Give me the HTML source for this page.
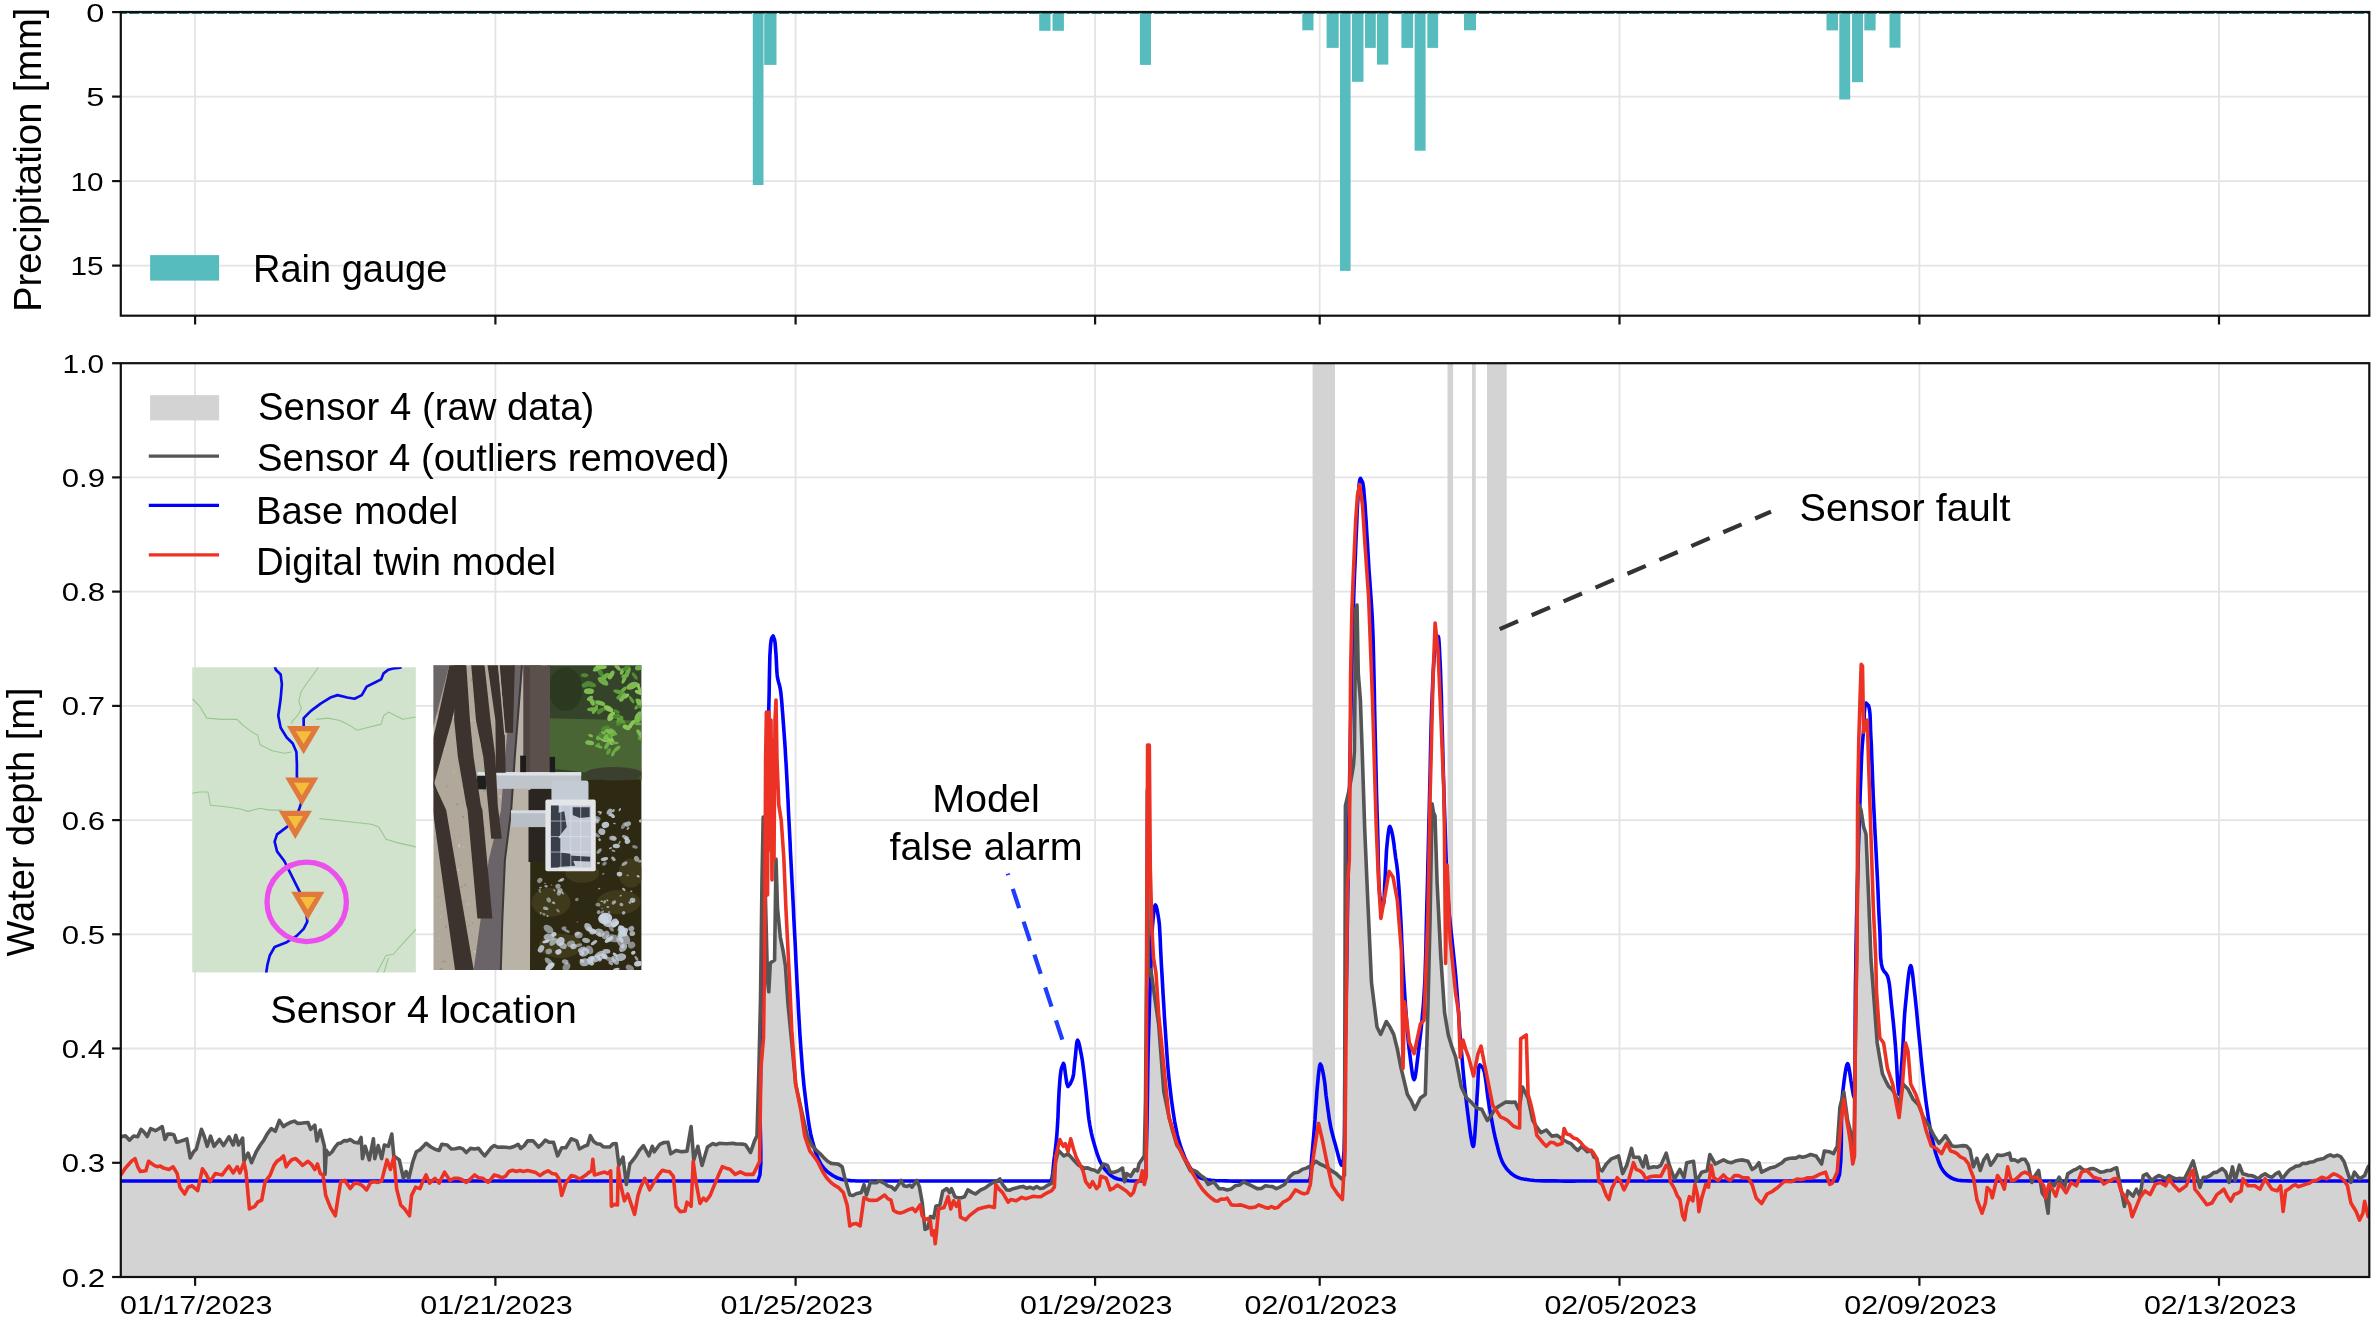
<!DOCTYPE html><html><head><meta charset="utf-8"><title>Sensor 4 water depth</title>
<style>html,body{margin:0;padding:0;background:#fff;}svg{display:block;will-change:transform;}text{font-family:"Liberation Sans", sans-serif;fill:#000;}</style></head><body>
<svg width="2378" height="1321" viewBox="0 0 2378 1321">
<rect width="2378" height="1321" fill="#fff"/>
<defs><clipPath id="cb"><rect x="120.8" y="363.2" width="2248.5" height="913.8"/></clipPath><clipPath id="ct"><rect x="120.8" y="12.0" width="2248.5" height="303.7"/></clipPath></defs>
<g stroke="#e4e4e4" stroke-width="1.8">
<line x1="195.1" y1="12.0" x2="195.1" y2="315.7"/>
<line x1="495.4" y1="12.0" x2="495.4" y2="315.7"/>
<line x1="795.6" y1="12.0" x2="795.6" y2="315.7"/>
<line x1="1095.1" y1="12.0" x2="1095.1" y2="315.7"/>
<line x1="1319.7" y1="12.0" x2="1319.7" y2="315.7"/>
<line x1="1619.5" y1="12.0" x2="1619.5" y2="315.7"/>
<line x1="1919.4" y1="12.0" x2="1919.4" y2="315.7"/>
<line x1="2219.0" y1="12.0" x2="2219.0" y2="315.7"/>
<line x1="120.8" y1="96.6" x2="2369.3" y2="96.6"/>
<line x1="120.8" y1="181.1" x2="2369.3" y2="181.1"/>
<line x1="120.8" y1="265.6" x2="2369.3" y2="265.6"/>
</g>
<g fill="#57bcbd">
<rect x="752.8" y="12.0" width="10.7" height="173.0"/>
<rect x="764.2" y="12.0" width="12.3" height="52.9"/>
<rect x="1039.2" y="12.0" width="11.3" height="18.8"/>
<rect x="1052.5" y="12.0" width="11.4" height="18.8"/>
<rect x="1139.9" y="12.0" width="11.1" height="52.9"/>
<rect x="1302.3" y="12.0" width="11.2" height="18.3"/>
<rect x="1326.6" y="12.0" width="12.1" height="35.9"/>
<rect x="1340.0" y="12.0" width="10.6" height="258.9"/>
<rect x="1352.0" y="12.0" width="11.5" height="69.8"/>
<rect x="1365.0" y="12.0" width="10.8" height="35.9"/>
<rect x="1377.0" y="12.0" width="11.3" height="52.6"/>
<rect x="1401.4" y="12.0" width="11.7" height="35.9"/>
<rect x="1414.6" y="12.0" width="11.0" height="138.7"/>
<rect x="1427.3" y="12.0" width="10.8" height="35.9"/>
<rect x="1464.0" y="12.0" width="12.0" height="18.3"/>
<rect x="1826.5" y="12.0" width="11.5" height="18.4"/>
<rect x="1839.3" y="12.0" width="10.9" height="87.5"/>
<rect x="1852.0" y="12.0" width="11.0" height="70.2"/>
<rect x="1864.3" y="12.0" width="11.3" height="18.4"/>
<rect x="1889.5" y="12.0" width="11.0" height="35.7"/>
</g>
<line x1="116.6" y1="13.3" x2="2369.3" y2="13.3" stroke="#2c8586" stroke-width="1.5" stroke-dasharray="10.3 2.2" clip-path="url(#ct)"/>
<rect x="150.1" y="255.1" width="69" height="25.5" fill="#57bcbd"/>
<text x="253" y="281.7" font-size="38">Rain gauge</text>
<rect x="120.8" y="12.0" width="2248.5" height="303.7" fill="none" stroke="#111" stroke-width="2.2"/>
<g stroke="#111" stroke-width="2.2">
<line x1="195.1" y1="315.7" x2="195.1" y2="324.5"/>
<line x1="495.4" y1="315.7" x2="495.4" y2="324.5"/>
<line x1="795.6" y1="315.7" x2="795.6" y2="324.5"/>
<line x1="1095.1" y1="315.7" x2="1095.1" y2="324.5"/>
<line x1="1319.7" y1="315.7" x2="1319.7" y2="324.5"/>
<line x1="1619.5" y1="315.7" x2="1619.5" y2="324.5"/>
<line x1="1919.4" y1="315.7" x2="1919.4" y2="324.5"/>
<line x1="2219.0" y1="315.7" x2="2219.0" y2="324.5"/>
<line x1="112.1" y1="12.1" x2="120.8" y2="12.1"/>
<line x1="112.1" y1="96.6" x2="120.8" y2="96.6"/>
<line x1="112.1" y1="181.1" x2="120.8" y2="181.1"/>
<line x1="112.1" y1="265.6" x2="120.8" y2="265.6"/>
</g>
<text x="86.2" y="21.6" font-size="26.5" textLength="18.1" lengthAdjust="spacingAndGlyphs">0</text>
<text x="86.2" y="106.1" font-size="26.5" textLength="18.1" lengthAdjust="spacingAndGlyphs">5</text>
<text x="70.6" y="190.6" font-size="26.5" textLength="33.0" lengthAdjust="spacingAndGlyphs">10</text>
<text x="70.6" y="275.1" font-size="26.5" textLength="33.0" lengthAdjust="spacingAndGlyphs">15</text>
<text transform="translate(41.1,159.8) rotate(-90)" font-size="38" text-anchor="middle">Precipitation [mm]</text>
<g stroke="#e4e4e4" stroke-width="1.8">
<line x1="195.1" y1="363.2" x2="195.1" y2="1277.0"/>
<line x1="495.4" y1="363.2" x2="495.4" y2="1277.0"/>
<line x1="795.6" y1="363.2" x2="795.6" y2="1277.0"/>
<line x1="1095.1" y1="363.2" x2="1095.1" y2="1277.0"/>
<line x1="1319.7" y1="363.2" x2="1319.7" y2="1277.0"/>
<line x1="1619.5" y1="363.2" x2="1619.5" y2="1277.0"/>
<line x1="1919.4" y1="363.2" x2="1919.4" y2="1277.0"/>
<line x1="2219.0" y1="363.2" x2="2219.0" y2="1277.0"/>
<line x1="120.8" y1="1162.8" x2="2369.3" y2="1162.8"/>
<line x1="120.8" y1="1048.5" x2="2369.3" y2="1048.5"/>
<line x1="120.8" y1="934.3" x2="2369.3" y2="934.3"/>
<line x1="120.8" y1="820.1" x2="2369.3" y2="820.1"/>
<line x1="120.8" y1="705.9" x2="2369.3" y2="705.9"/>
<line x1="120.8" y1="591.6" x2="2369.3" y2="591.6"/>
<line x1="120.8" y1="477.4" x2="2369.3" y2="477.4"/>
</g>
<g clip-path="url(#cb)">
<polygon points="120.8,1136.8 120.3,1136.8 121.4,1136.8 125.4,1135.7 129.5,1140.2 133.6,1136.1 137.7,1136.8 141.1,1129.3 147.2,1136.5 150.7,1128.6 155.4,1130.7 162.2,1126.6 165.0,1139.5 167.7,1134.1 173.8,1134.7 176.5,1142.2 186.8,1138.8 190.2,1157.9 196.3,1149.0 201.5,1129.3 207.2,1146.3 210.6,1136.1 214.0,1146.3 219.5,1139.5 223.5,1145.6 229.0,1136.8 233.1,1145.0 235.8,1135.4 238.5,1145.0 242.6,1138.1 244.0,1161.3 248.1,1153.1 251.5,1162.7 256.2,1151.8 260.3,1145.0 267.1,1134.1 271.2,1128.6 275.3,1131.3 279.4,1120.4 283.5,1126.6 294.4,1121.1 301.2,1123.2 308.0,1122.5 310.7,1129.3 314.8,1125.2 316.9,1140.9 320.3,1130.0 324.4,1146.3 325.0,1174.3 326.4,1150.4 329.1,1154.5 338.0,1143.6 350.2,1139.5 358.4,1142.9 361.1,1137.5 362.5,1158.6 365.2,1146.3 369.3,1159.9 373.4,1138.8 374.8,1158.6 378.2,1145.6 381.6,1158.6 384.3,1145.0 388.4,1146.3 391.8,1134.1 393.8,1155.9 399.3,1159.9 403.4,1178.3 406.1,1171.5 408.8,1178.3 412.9,1161.3 416.3,1151.8 420.0,1149.7 426.1,1143.3 430.9,1147.0 439.1,1150.4 441.8,1144.3 447.2,1145.0 451.3,1149.0 459.5,1147.7 466.3,1152.5 470.4,1148.4 478.6,1148.4 484.7,1155.9 494.3,1145.6 501.7,1147.0 509.9,1147.7 518.1,1144.3 520.8,1148.4 527.6,1140.9 533.1,1140.9 538.5,1147.0 545.3,1140.2 553.5,1142.2 557.6,1155.9 561.7,1147.7 565.8,1147.7 571.2,1138.8 576.7,1140.9 579.4,1149.0 587.6,1145.0 590.3,1135.7 593.7,1141.6 606.6,1147.0 616.2,1143.6 618.9,1165.4 623.0,1157.2 626.4,1184.5 629.8,1164.0 635.3,1157.2 643.4,1145.6 648.9,1155.9 652.3,1146.3 654.3,1151.8 659.8,1144.3 668.0,1142.2 670.7,1153.8 676.1,1150.4 681.6,1151.8 687.0,1151.1 691.1,1126.6 693.8,1159.9 697.9,1146.3 702.0,1165.4 707.5,1147.0 712.9,1143.6 722.3,1143.5 730.0,1143.5 745.5,1144.8 750.6,1152.5 754.5,1140.9 757.0,1135.8 758.9,1068.8 760.5,1000.0 762.0,880.0 763.2,817.0 765.5,900.0 767.5,980.0 768.8,991.8 770.3,963.0 774.6,960.0 776.0,859.0 777.5,908.0 780.3,937.0 783.2,951.4 785.4,965.8 788.0,1004.4 791.8,1043.0 795.7,1084.3 800.8,1107.4 807.3,1135.8 812.4,1146.1 820.2,1153.8 827.9,1161.5 838.2,1164.1 842.1,1166.7 844.6,1177.0 849.8,1195.0 856.2,1193.7 861.4,1192.4 864.0,1184.7 866.5,1195.0 870.4,1182.1 879.4,1180.9 884.6,1183.4 894.9,1189.9 900.4,1181.7 901.1,1180.4 903.8,1185.8 910.0,1185.1 912.0,1187.2 916.8,1180.4 919.5,1187.2 922.2,1202.2 925.0,1229.4 927.7,1228.1 930.4,1216.5 933.8,1217.8 935.9,1206.3 939.9,1204.9 942.7,1191.3 946.8,1188.6 949.5,1192.6 951.5,1188.6 954.9,1196.7 964.5,1196.7 967.9,1189.9 975.4,1194.0 980.8,1189.9 989.0,1185.1 995.8,1181.7 999.9,1179.0 1002.6,1184.5 1006.7,1189.9 1016.2,1187.9 1029.9,1187.2 1043.5,1187.9 1051.7,1183.1 1055.7,1161.3 1058.5,1150.4 1063.9,1155.9 1068.0,1153.8 1073.5,1159.9 1078.9,1165.4 1084.4,1168.1 1091.2,1169.5 1098.0,1172.2 1103.4,1164.0 1107.5,1165.4 1110.2,1172.2 1118.4,1170.8 1122.5,1168.1 1124.6,1181.7 1126.6,1173.6 1130.7,1176.3 1134.8,1169.5 1137.5,1170.8 1138.9,1164.0 1144.3,1155.9 1145.5,1100.0 1146.5,980.0 1147.3,790.0 1148.4,975.8 1151.0,970.0 1153.5,988.7 1158.7,1024.7 1163.8,1091.7 1169.0,1117.0 1176.8,1145.0 1183.6,1157.2 1190.4,1170.9 1197.3,1172.2 1204.1,1177.7 1208.2,1184.5 1213.6,1181.8 1219.1,1188.6 1227.2,1189.9 1235.4,1185.8 1243.6,1181.8 1251.8,1185.8 1257.2,1188.6 1265.4,1185.8 1276.3,1188.6 1284.5,1184.5 1289.9,1176.3 1298.1,1172.2 1306.3,1168.1 1311.7,1165.4 1315.8,1161.3 1319.9,1164.0 1328.1,1168.1 1336.2,1173.6 1341.7,1179.0 1344.5,1175.0 1345.4,806.0 1348.0,795.0 1351.0,780.0 1353.5,765.0 1354.4,751.6 1355.7,610.0 1357.0,605.0 1358.3,674.0 1360.4,700.0 1362.2,751.6 1364.7,828.8 1367.8,901.0 1371.5,982.6 1377.0,1027.0 1380.7,1034.4 1386.3,1021.5 1393.7,1034.4 1397.4,1049.3 1401.0,1067.8 1407.4,1094.5 1414.9,1109.3 1420.4,1098.0 1425.3,1094.5 1427.8,1012.8 1430.0,922.5 1432.1,803.8 1433.4,812.3 1435.0,816.0 1437.1,882.8 1440.8,957.0 1444.6,1012.8 1448.3,1035.0 1455.7,1057.4 1461.3,1087.0 1466.8,1098.2 1474.3,1105.6 1481.7,1109.3 1487.3,1120.5 1494.7,1109.3 1505.8,1102.0 1515.1,1102.0 1519.0,1110.0 1522.5,1087.0 1528.1,1098.2 1532.7,1120.4 1536.8,1127.2 1540.9,1132.7 1546.3,1130.0 1551.8,1136.1 1557.2,1135.4 1562.7,1139.5 1570.9,1143.6 1577.7,1150.4 1581.8,1146.3 1587.2,1151.8 1591.3,1150.4 1594.0,1157.2 1596.8,1158.6 1599.5,1169.5 1602.2,1170.8 1606.3,1164.0 1611.7,1158.6 1618.6,1155.9 1622.6,1173.6 1626.7,1165.4 1631.5,1148.4 1633.5,1157.2 1639.0,1157.2 1643.1,1166.8 1645.8,1155.9 1648.5,1168.1 1654.0,1166.8 1660.8,1165.4 1666.2,1153.1 1669.0,1164.0 1674.4,1179.0 1679.9,1169.5 1684.0,1177.7 1686.7,1162.7 1693.5,1161.3 1696.2,1181.7 1701.7,1172.2 1707.1,1170.8 1709.8,1154.5 1715.3,1164.0 1723.5,1159.9 1731.6,1162.7 1742.5,1159.9 1748.0,1161.3 1752.1,1169.5 1758.9,1162.7 1761.6,1172.2 1769.8,1168.1 1775.2,1166.8 1782.0,1162.7 1788.9,1158.6 1802.5,1157.2 1810.7,1154.5 1816.1,1155.9 1821.6,1164.0 1824.3,1151.1 1829.7,1151.8 1833.5,1153.6 1837.3,1146.0 1839.9,1107.3 1843.8,1091.9 1847.6,1120.2 1851.5,1135.6 1854.0,1146.0 1856.0,1000.0 1858.8,804.8 1861.0,810.0 1863.6,826.7 1866.0,834.0 1868.5,894.5 1871.0,960.0 1873.4,991.5 1877.2,1043.0 1882.4,1073.8 1888.8,1086.7 1895.2,1094.4 1899.1,1104.7 1903.0,1084.1 1908.1,1089.3 1913.3,1099.6 1918.4,1104.7 1923.6,1117.6 1928.7,1125.3 1933.8,1135.6 1939.0,1143.3 1945.4,1135.6 1951.9,1146.0 1960.0,1146.0 1966.5,1146.0 1970.0,1149.8 1973.4,1166.9 1976.9,1158.3 1980.3,1170.4 1983.7,1160.1 1987.2,1154.9 1990.6,1165.2 1997.5,1154.9 2004.3,1154.9 2009.5,1153.2 2011.2,1160.1 2018.0,1161.8 2024.9,1159.2 2028.3,1165.2 2031.8,1182.4 2035.2,1175.5 2038.6,1170.4 2042.1,1192.7 2045.5,1197.8 2048.1,1213.2 2049.8,1182.4 2054.1,1185.8 2059.2,1177.2 2064.4,1187.5 2067.8,1173.8 2073.0,1170.4 2079.8,1166.9 2086.7,1170.4 2093.5,1168.6 2100.4,1172.1 2110.7,1170.4 2116.7,1167.8 2121.0,1189.2 2124.4,1206.4 2127.9,1190.9 2133.0,1196.1 2136.4,1189.2 2139.9,1196.1 2143.3,1175.5 2146.7,1173.8 2151.9,1180.6 2158.7,1175.5 2165.6,1178.9 2169.0,1175.5 2175.9,1178.9 2184.5,1178.9 2189.6,1168.6 2193.1,1160.9 2196.5,1173.8 2199.9,1187.5 2203.4,1177.2 2210.2,1175.5 2217.1,1172.1 2222.2,1168.6 2225.7,1172.1 2229.1,1182.4 2232.5,1166.9 2235.1,1180.6 2239.4,1165.2 2242.8,1173.8 2251.4,1175.5 2258.3,1178.9 2265.1,1173.8 2272.0,1177.2 2278.9,1172.1 2282.3,1178.9 2287.4,1172.1 2296.0,1166.1 2306.3,1163.5 2313.2,1161.8 2320.0,1159.2 2330.3,1154.9 2340.6,1156.6 2344.1,1161.8 2347.5,1172.1 2350.9,1182.4 2354.4,1172.1 2359.5,1178.9 2364.6,1175.5 2368.1,1166.9 2368.6,1166.1 2369.3,1166.1 2369.3,1277.0 120.8,1277.0" fill="#d3d3d3"/>
<rect x="1312.6" y="363.2" width="22.4" height="913.8" fill="#d3d3d3"/>
<rect x="1447.5" y="363.2" width="5.6" height="913.8" fill="#d3d3d3"/>
<rect x="1472.0" y="363.2" width="3.8" height="913.8" fill="#d3d3d3"/>
<rect x="1487.0" y="363.2" width="19.7" height="913.8" fill="#d3d3d3"/>
<polyline points="121.5,1181.0 164.9,1181.0 274.3,1181.0 418.3,1181.0 565.7,1181.0 685.0,1181.0 745.0,1181.0 749.2,1181.0 752.0,1181.0 757.8,1181.0 759.9,1175.0 760.8,1163.8 760.8,1149.0 760.4,1132.4 760.0,1115.5 760.0,1100.0 760.4,1083.9 760.7,1067.4 761.0,1050.7 761.4,1033.7 761.7,1016.8 762.0,1000.0 762.3,983.2 762.7,966.3 763.0,949.3 763.3,932.5 763.7,916.0 764.0,900.0 764.3,886.1 764.6,872.5 765.0,859.1 765.3,845.9 765.7,832.9 766.0,820.0 766.3,807.9 766.7,795.9 767.0,784.0 767.4,772.3 767.7,760.9 768.0,750.0 768.2,741.2 768.4,732.7 768.5,724.5 768.7,716.4 768.8,708.3 769.0,700.0 769.2,691.1 769.3,681.7 769.5,672.2 769.7,663.2 769.9,655.3 770.3,649.0 770.6,644.4 771.1,640.7 771.7,638.0 773.1,636.0 774.6,640.0 775.1,642.9 775.4,646.5 775.7,650.5 776.0,654.6 776.2,658.2 776.4,662.2 776.6,666.3 776.8,670.3 777.1,674.2 777.5,677.6 778.4,681.5 779.4,684.9 780.3,689.0 780.9,693.3 781.4,698.2 781.9,703.6 782.3,709.3 782.8,715.1 783.2,720.9 783.7,727.6 784.2,734.6 784.7,741.6 785.2,748.9 785.6,756.4 786.1,764.0 786.6,773.1 787.1,782.6 787.6,792.3 788.1,802.2 788.5,812.0 789.0,821.7 789.5,831.3 790.0,840.9 790.4,850.6 790.9,860.2 791.4,869.8 791.9,879.4 792.4,889.0 792.9,898.7 793.4,908.3 793.8,917.9 794.3,927.5 794.8,937.0 795.3,946.1 795.7,955.2 796.1,964.2 796.6,973.1 797.0,982.1 797.5,991.0 798.0,999.7 798.4,1008.4 798.9,1017.1 799.4,1025.7 799.9,1034.4 800.5,1043.0 801.1,1051.6 801.8,1060.3 802.4,1068.9 803.2,1077.6 804.0,1086.1 805.0,1094.5 806.0,1102.6 807.0,1110.7 808.1,1118.8 809.3,1126.7 810.7,1134.1 812.4,1141.0 813.8,1145.9 815.2,1150.7 816.7,1155.2 818.5,1159.4 820.4,1163.3 822.7,1166.7 824.9,1169.3 827.3,1171.6 829.9,1173.6 832.7,1175.5 835.4,1177.0 838.2,1178.3 841.2,1179.3 844.4,1180.0 847.5,1180.3 850.6,1180.6 853.6,1180.8 857.5,1181.0 861.1,1181.0 865.0,1181.0 867.6,1181.0 870.1,1181.0 872.8,1181.0 875.9,1181.0 880.0,1181.0 899.3,1181.0 928.7,1181.0 962.9,1181.0 996.4,1181.0 1023.9,1181.0 1040.0,1181.0 1043.6,1181.0 1046.0,1181.0 1050.5,1181.0 1051.6,1179.2 1052.3,1176.2 1052.8,1172.5 1053.2,1168.3 1053.6,1164.0 1054.0,1160.0 1054.6,1155.8 1055.1,1151.5 1055.6,1147.1 1056.1,1142.6 1056.6,1137.8 1057.0,1132.8 1057.5,1125.2 1058.0,1116.6 1058.3,1107.6 1058.7,1098.8 1059.1,1090.8 1059.6,1084.0 1059.9,1080.1 1060.2,1076.5 1060.6,1073.3 1061.0,1070.4 1061.5,1068.0 1063.5,1063.3 1064.2,1065.1 1064.8,1069.1 1065.4,1073.9 1066.0,1078.0 1066.8,1083.4 1068.0,1086.5 1070.2,1083.9 1072.5,1078.8 1073.2,1076.2 1073.7,1073.2 1074.0,1070.0 1074.3,1066.6 1074.6,1063.3 1075.0,1060.0 1075.4,1056.3 1075.8,1052.0 1076.2,1047.7 1076.6,1043.9 1077.1,1041.2 1077.6,1040.2 1078.3,1041.2 1079.1,1043.8 1079.9,1047.5 1080.7,1051.6 1081.5,1055.6 1082.4,1060.7 1083.1,1066.3 1083.9,1072.4 1084.6,1078.7 1085.3,1085.0 1086.0,1091.0 1086.6,1096.8 1087.2,1102.6 1087.7,1108.5 1088.3,1114.2 1089.0,1119.8 1089.8,1125.0 1090.6,1129.1 1091.4,1133.1 1092.3,1137.0 1093.3,1140.7 1094.3,1144.3 1095.3,1147.7 1096.3,1151.0 1097.3,1154.2 1098.4,1157.2 1099.5,1160.1 1100.7,1162.7 1102.4,1165.7 1104.2,1168.3 1106.2,1170.8 1108.6,1173.4 1111.3,1175.8 1114.3,1177.7 1117.8,1179.0 1121.7,1179.8 1125.2,1180.4 1128.8,1180.8 1132.0,1181.0 1137.0,1181.0 1141.0,1181.0 1144.5,1180.5 1145.5,1178.1 1146.1,1174.2 1146.2,1169.1 1146.2,1163.2 1146.2,1156.7 1146.3,1150.0 1146.7,1135.4 1147.1,1117.7 1147.4,1098.0 1147.7,1077.7 1148.0,1058.0 1148.4,1040.0 1148.8,1026.1 1149.2,1012.5 1149.6,999.2 1150.1,986.5 1150.6,974.4 1151.0,963.0 1151.3,954.9 1151.6,946.9 1151.8,939.3 1152.1,932.2 1152.5,925.7 1153.0,920.0 1153.4,916.0 1153.8,912.0 1154.3,908.5 1154.8,906.0 1155.4,905.0 1156.2,906.3 1157.1,909.7 1157.9,914.3 1158.7,919.0 1159.4,924.8 1159.8,931.5 1160.2,938.9 1160.5,946.8 1160.9,954.9 1161.3,963.0 1161.9,973.1 1162.5,983.7 1163.1,994.7 1163.8,1005.7 1164.4,1016.6 1165.1,1027.0 1165.7,1036.0 1166.3,1044.9 1166.9,1053.7 1167.5,1062.3 1168.2,1070.7 1169.0,1078.8 1169.8,1085.8 1170.6,1092.8 1171.4,1099.6 1172.3,1106.1 1173.2,1112.3 1174.1,1118.0 1174.7,1121.8 1175.4,1125.3 1176.0,1128.7 1176.7,1131.9 1177.4,1135.1 1178.2,1138.2 1179.1,1141.6 1180.2,1145.0 1181.2,1148.2 1182.4,1151.4 1183.6,1154.5 1184.8,1157.4 1186.1,1160.3 1187.5,1163.0 1188.9,1165.7 1190.4,1168.1 1192.5,1171.2 1194.7,1174.0 1197.3,1176.3 1200.5,1177.9 1204.1,1178.9 1208.2,1179.7 1211.4,1180.2 1214.9,1180.5 1218.7,1180.7 1222.5,1180.8 1226.3,1180.9 1230.0,1181.0 1233.3,1181.1 1236.4,1181.1 1239.5,1181.1 1242.7,1181.0 1246.2,1181.0 1250.0,1181.0 1257.6,1181.0 1266.9,1181.0 1276.8,1181.0 1286.3,1181.0 1294.4,1181.0 1300.0,1181.0 1305.0,1181.0 1309.0,1181.0 1310.0,1179.0 1310.7,1175.7 1311.0,1171.4 1311.2,1166.6 1311.4,1161.7 1311.7,1157.2 1312.2,1152.4 1312.7,1147.3 1313.1,1142.1 1313.6,1137.0 1314.0,1132.0 1314.4,1127.2 1314.7,1123.3 1315.0,1119.4 1315.2,1115.7 1315.5,1112.0 1315.7,1108.4 1316.0,1104.8 1316.2,1101.4 1316.5,1098.1 1316.7,1094.9 1316.9,1091.6 1317.2,1088.3 1317.5,1085.0 1317.9,1081.1 1318.3,1076.5 1318.8,1071.9 1319.3,1067.9 1319.8,1065.1 1320.4,1064.0 1321.4,1065.8 1322.5,1070.2 1323.5,1075.0 1324.1,1078.6 1324.7,1082.5 1325.2,1086.8 1325.6,1091.2 1326.1,1095.7 1326.7,1100.0 1327.3,1104.5 1327.9,1109.1 1328.6,1113.8 1329.2,1118.4 1330.0,1122.9 1330.8,1127.2 1331.6,1130.8 1332.5,1134.3 1333.4,1137.7 1334.3,1141.1 1335.3,1144.4 1336.2,1147.7 1337.1,1151.1 1338.1,1155.0 1339.1,1158.9 1340.1,1162.2 1341.0,1164.5 1341.7,1165.4 1343.3,1160.0 1344.1,1150.4 1344.5,1135.3 1344.7,1116.7 1344.7,1096.6 1344.8,1077.1 1345.0,1060.0 1345.2,1047.8 1345.4,1036.3 1345.7,1025.2 1345.9,1014.0 1346.1,1002.4 1346.3,990.0 1346.6,973.2 1346.9,955.3 1347.1,936.8 1347.4,917.9 1347.7,898.9 1348.0,880.0 1348.3,860.4 1348.6,840.7 1348.9,820.9 1349.3,800.9 1349.6,780.6 1350.0,760.0 1350.4,736.8 1350.9,712.7 1351.4,688.2 1351.9,664.2 1352.4,641.2 1353.0,620.0 1353.5,605.1 1353.9,590.9 1354.4,577.3 1355.0,564.3 1355.5,551.9 1356.0,540.0 1356.4,531.0 1356.8,522.0 1357.1,513.4 1357.5,505.4 1358.0,498.2 1358.5,492.0 1358.9,487.4 1359.3,483.0 1359.8,479.8 1360.5,478.4 1362.5,482.0 1363.0,484.1 1363.4,486.8 1363.8,489.8 1364.0,493.1 1364.3,496.6 1364.6,500.0 1365.0,504.5 1365.3,509.3 1365.6,514.3 1366.0,519.4 1366.3,524.7 1366.6,530.0 1367.0,536.3 1367.4,542.7 1367.8,549.3 1368.2,556.0 1368.6,562.9 1369.0,570.0 1369.6,578.2 1370.2,586.5 1370.8,594.9 1371.4,603.8 1372.0,613.1 1372.5,623.0 1373.1,638.2 1373.5,654.8 1373.9,672.4 1374.3,690.4 1374.6,708.4 1375.0,726.0 1375.4,743.4 1375.8,761.0 1376.2,778.6 1376.6,796.0 1377.1,812.9 1377.6,829.0 1378.0,843.0 1378.2,857.9 1378.6,872.5 1379.0,885.5 1379.8,895.7 1380.9,902.1 1383.0,905.0 1383.6,903.6 1384.1,900.3 1384.3,895.7 1384.5,890.4 1384.7,885.0 1385.0,880.0 1385.3,874.4 1385.6,868.4 1385.9,862.2 1386.2,856.1 1386.5,850.3 1387.0,845.0 1387.4,841.1 1387.8,837.0 1388.3,833.0 1388.8,829.7 1389.3,827.3 1389.9,826.4 1391.2,829.4 1392.5,835.0 1393.0,837.9 1393.5,841.1 1394.0,844.6 1394.4,848.2 1394.9,851.7 1395.3,855.0 1395.7,858.0 1396.2,860.9 1396.6,863.6 1397.0,866.6 1397.4,870.0 1397.9,874.8 1398.3,880.1 1398.8,885.8 1399.2,891.9 1399.6,898.3 1400.0,905.0 1400.6,915.5 1401.2,927.1 1401.7,939.5 1402.3,951.9 1402.9,963.9 1403.5,975.0 1404.0,983.2 1404.5,991.1 1405.0,998.7 1405.5,1006.0 1406.0,1013.1 1406.5,1020.0 1406.9,1025.4 1407.3,1030.5 1407.8,1035.4 1408.2,1040.3 1408.7,1045.1 1409.3,1050.0 1410.0,1055.6 1410.8,1062.1 1411.6,1068.5 1412.4,1074.1 1413.3,1078.1 1414.1,1079.6 1414.9,1078.2 1415.6,1074.5 1416.4,1069.1 1417.1,1062.8 1417.9,1056.2 1418.6,1050.0 1419.6,1041.9 1420.6,1033.3 1421.6,1024.1 1422.5,1014.5 1423.4,1004.6 1424.1,994.2 1424.9,980.0 1425.4,964.9 1425.9,949.1 1426.2,932.9 1426.6,916.4 1427.0,900.0 1427.5,882.0 1427.9,863.6 1428.4,844.8 1428.8,826.2 1429.3,807.8 1429.7,790.0 1430.1,774.2 1430.4,758.4 1430.7,742.8 1431.1,727.7 1431.5,713.4 1432.0,700.0 1432.4,690.5 1432.8,681.1 1433.2,672.1 1433.7,663.8 1434.3,656.3 1435.0,650.0 1435.7,645.3 1436.6,640.9 1437.4,637.6 1438.1,636.3 1438.6,637.4 1438.9,640.2 1439.2,644.3 1439.5,649.3 1439.7,654.7 1440.0,660.0 1440.5,670.7 1440.9,683.4 1441.4,697.4 1441.7,712.0 1442.1,726.4 1442.5,740.0 1442.8,751.8 1443.1,763.3 1443.4,774.7 1443.8,786.2 1444.1,797.8 1444.5,810.0 1445.0,824.6 1445.5,839.9 1446.0,855.5 1446.6,871.2 1447.4,886.6 1448.3,901.4 1449.3,914.2 1450.6,926.7 1451.9,939.0 1453.2,951.2 1454.5,963.4 1455.7,975.7 1456.7,988.2 1457.7,1000.9 1458.6,1013.5 1459.4,1026.0 1460.3,1038.2 1461.3,1050.0 1462.2,1059.8 1463.0,1069.5 1463.9,1078.9 1464.8,1088.0 1465.8,1096.9 1466.8,1105.6 1467.8,1113.7 1469.0,1122.7 1470.1,1131.6 1471.3,1139.2 1472.3,1144.5 1473.2,1146.5 1473.7,1145.5 1474.1,1142.7 1474.5,1138.8 1474.9,1134.1 1475.2,1129.4 1475.5,1125.0 1475.9,1119.6 1476.2,1113.8 1476.5,1107.7 1476.8,1101.6 1477.1,1095.6 1477.5,1090.0 1477.8,1085.0 1478.0,1079.6 1478.2,1074.3 1478.5,1069.6 1479.0,1066.3 1479.8,1064.8 1483.0,1068.0 1484.3,1071.8 1485.3,1077.4 1486.3,1084.2 1487.1,1091.5 1488.1,1098.9 1489.1,1105.6 1490.2,1111.9 1491.4,1118.4 1492.6,1124.8 1493.8,1131.2 1495.1,1137.2 1496.5,1142.8 1497.6,1147.0 1498.6,1151.0 1499.7,1154.9 1501.0,1158.5 1502.3,1161.9 1504.0,1165.0 1505.9,1167.8 1507.9,1170.3 1510.2,1172.6 1512.6,1174.5 1515.1,1176.2 1517.7,1177.5 1520.5,1178.4 1523.5,1179.0 1526.6,1179.5 1530.0,1180.0 1534.4,1180.5 1539.2,1180.7 1544.3,1180.9 1549.6,1180.9 1554.9,1180.9 1560.0,1181.0 1564.7,1181.1 1568.9,1181.1 1573.2,1181.1 1577.9,1181.0 1583.4,1181.0 1590.0,1181.0 1620.3,1181.0 1664.8,1181.0 1715.4,1181.0 1764.4,1181.0 1803.9,1181.0 1826.0,1181.0 1829.6,1181.0 1832.0,1181.0 1837.3,1181.0 1839.6,1174.1 1840.8,1160.8 1841.3,1143.6 1841.4,1125.1 1841.7,1107.9 1842.5,1094.4 1843.3,1087.6 1844.1,1080.7 1845.0,1074.2 1845.9,1068.7 1846.8,1065.0 1847.6,1063.6 1848.3,1064.7 1848.9,1067.6 1849.6,1071.6 1850.3,1076.1 1850.9,1080.5 1851.5,1084.1 1852.2,1088.1 1852.9,1092.4 1853.5,1095.7 1854.0,1097.0 1854.7,1092.0 1855.0,1079.0 1855.1,1060.7 1855.1,1039.6 1855.2,1018.5 1855.3,1000.0 1855.5,983.4 1855.8,966.8 1856.0,950.1 1856.3,933.4 1856.6,916.7 1857.0,900.0 1857.4,882.9 1857.9,865.4 1858.4,847.9 1859.0,830.8 1859.5,814.7 1860.0,800.0 1860.3,790.4 1860.7,781.2 1861.0,772.5 1861.3,764.4 1861.6,756.8 1862.0,750.0 1862.2,746.2 1862.5,742.8 1862.8,739.6 1863.0,736.6 1863.3,733.4 1863.6,730.0 1863.9,725.2 1864.1,719.5 1864.3,713.6 1864.7,708.5 1865.2,704.7 1866.0,703.0 1868.5,705.5 1869.3,708.5 1869.9,713.0 1870.2,718.4 1870.4,724.4 1870.6,730.7 1870.9,737.0 1871.4,745.9 1871.7,755.5 1872.1,765.7 1872.5,776.3 1872.9,787.0 1873.3,797.6 1873.9,809.4 1874.5,821.6 1875.1,834.0 1875.8,846.4 1876.4,858.5 1877.0,870.3 1877.5,880.7 1878.0,891.1 1878.4,901.3 1878.8,911.3 1879.3,920.9 1879.8,930.0 1880.1,937.2 1880.3,944.5 1880.4,951.6 1880.7,958.1 1881.4,963.8 1882.4,968.3 1884.0,971.2 1885.9,973.3 1887.5,976.0 1888.5,979.6 1889.3,983.9 1889.9,988.7 1890.4,993.9 1890.9,999.2 1891.4,1004.4 1892.1,1010.4 1892.7,1016.6 1893.4,1023.0 1894.0,1029.5 1894.6,1036.2 1895.2,1043.0 1895.9,1052.3 1896.6,1063.4 1897.2,1074.7 1897.8,1084.6 1898.5,1091.7 1899.1,1094.4 1899.6,1092.7 1900.1,1088.3 1900.6,1082.0 1901.1,1074.6 1901.5,1067.0 1902.0,1060.0 1902.6,1051.4 1903.1,1042.1 1903.6,1032.4 1904.1,1022.7 1904.7,1013.2 1905.5,1004.4 1906.3,996.6 1907.1,988.1 1908.0,979.8 1908.9,972.6 1909.8,967.6 1910.7,965.7 1911.4,967.0 1912.0,970.3 1912.7,975.0 1913.3,980.6 1913.9,986.3 1914.5,991.5 1915.2,997.4 1915.8,1003.5 1916.5,1009.9 1917.1,1016.5 1917.7,1023.2 1918.4,1030.0 1919.2,1038.3 1920.1,1046.9 1920.9,1055.8 1921.8,1064.7 1922.7,1073.3 1923.6,1081.6 1924.4,1088.5 1925.2,1095.2 1926.0,1101.7 1926.9,1108.1 1927.8,1114.3 1928.7,1120.2 1929.5,1124.9 1930.3,1129.5 1931.2,1133.9 1932.0,1138.2 1932.9,1142.2 1933.8,1146.0 1934.8,1149.9 1935.8,1153.5 1936.9,1156.8 1938.0,1160.0 1939.2,1163.3 1940.5,1166.3 1942.0,1169.0 1944.3,1172.2 1947.0,1175.0 1950.5,1177.5 1954.4,1179.3 1958.0,1180.2 1962.0,1180.6 1964.9,1180.8 1968.1,1180.9 1971.5,1181.0 1975.0,1181.0 1977.8,1181.0 1980.4,1181.0 1983.2,1181.0 1986.3,1181.0 1990.2,1181.0 1995.0,1181.0 2038.9,1181.0 2112.6,1181.0 2199.3,1181.0 2282.1,1181.0 2344.1,1181.0 2368.5,1181.0" fill="none" stroke="#0000ff" stroke-width="3.6" stroke-linejoin="round" stroke-linecap="round"/>
<polyline points="120.3,1136.8 121.4,1136.8 125.4,1135.7 129.5,1140.2 133.6,1136.1 137.7,1136.8 141.1,1129.3 144.2,1132.2 147.2,1136.5 150.7,1128.6 155.4,1130.7 158.8,1128.7 162.2,1126.6 165.0,1139.5 167.7,1134.1 170.7,1134.1 173.8,1134.7 176.5,1142.2 179.9,1141.4 183.4,1140.3 186.8,1138.8 190.2,1157.9 193.2,1152.3 196.3,1149.0 201.5,1129.3 204.3,1136.5 207.2,1146.3 210.6,1136.1 214.0,1146.3 219.5,1139.5 223.5,1145.6 229.0,1136.8 233.1,1145.0 235.8,1135.4 238.5,1145.0 242.6,1138.1 244.0,1161.3 248.1,1153.1 251.5,1162.7 256.2,1151.8 260.3,1145.0 263.7,1140.4 267.1,1134.1 271.2,1128.6 275.3,1131.3 279.4,1120.4 283.5,1126.6 287.1,1124.1 290.8,1122.2 294.4,1121.1 297.8,1123.4 301.2,1123.2 304.6,1122.7 308.0,1122.5 310.7,1129.3 314.8,1125.2 316.9,1140.9 320.3,1130.0 324.4,1146.3 325.0,1174.3 326.4,1150.4 329.1,1154.5 332.1,1151.7 335.0,1147.2 338.0,1143.6 341.0,1142.9 344.1,1140.6 347.2,1140.9 350.2,1139.5 354.3,1142.2 358.4,1142.9 361.1,1137.5 362.5,1158.6 365.2,1146.3 369.3,1159.9 373.4,1138.8 374.8,1158.6 378.2,1145.6 381.6,1158.6 384.3,1145.0 388.4,1146.3 391.8,1134.1 393.8,1155.9 399.3,1159.9 403.4,1178.3 406.1,1171.5 408.8,1178.3 412.9,1161.3 416.3,1151.8 420.0,1149.7 423.1,1146.6 426.1,1143.3 430.9,1147.0 435.0,1149.3 439.1,1150.4 441.8,1144.3 447.2,1145.0 451.3,1149.0 455.4,1148.8 459.5,1147.7 462.9,1148.9 466.3,1152.5 470.4,1148.4 474.5,1149.0 478.6,1148.4 481.6,1152.3 484.7,1155.9 487.9,1151.9 491.1,1147.8 494.3,1145.6 498.0,1147.3 501.7,1147.0 505.8,1147.3 509.9,1147.7 514.0,1146.5 518.1,1144.3 520.8,1148.4 524.2,1145.6 527.6,1140.9 533.1,1140.9 538.5,1147.0 541.9,1144.2 545.3,1140.2 549.4,1142.3 553.5,1142.2 557.6,1155.9 561.7,1147.7 565.8,1147.7 571.2,1138.8 576.7,1140.9 579.4,1149.0 583.5,1146.7 587.6,1145.0 590.3,1135.7 593.7,1141.6 596.9,1143.7 600.2,1144.1 603.4,1146.8 606.6,1147.0 609.8,1146.9 613.0,1143.7 616.2,1143.6 618.9,1165.4 623.0,1157.2 626.4,1184.5 629.8,1164.0 635.3,1157.2 639.3,1150.5 643.4,1145.6 648.9,1155.9 652.3,1146.3 654.3,1151.8 659.8,1144.3 663.9,1142.5 668.0,1142.2 670.7,1153.8 676.1,1150.4 681.6,1151.8 687.0,1151.1 691.1,1126.6 693.8,1159.9 697.9,1146.3 702.0,1165.4 707.5,1147.0 712.9,1143.6 716.0,1144.8 719.2,1143.4 722.3,1143.5 726.1,1143.8 730.0,1143.5 733.1,1143.2 736.2,1144.0 739.3,1144.0 742.4,1144.1 745.5,1144.8 750.6,1152.5 754.5,1140.9 757.0,1135.8 758.9,1068.8 760.5,1000.0 762.0,880.0 763.2,817.0 765.5,900.0 767.5,980.0 768.8,991.8 770.3,963.0 774.6,960.0 776.0,859.0 777.5,908.0 780.3,937.0 783.2,951.4 785.4,965.8 788.0,1004.4 791.8,1043.0 795.7,1084.3 800.8,1107.4 807.3,1135.8 812.4,1146.1 816.3,1150.2 820.2,1153.8 824.0,1157.9 827.9,1161.5 831.3,1163.4 834.8,1163.7 838.2,1164.1 842.1,1166.7 844.6,1177.0 849.8,1195.0 853.0,1195.5 856.2,1193.7 861.4,1192.4 864.0,1184.7 866.5,1195.0 870.4,1182.1 873.4,1182.6 876.4,1182.6 879.4,1180.9 884.6,1183.4 888.0,1186.0 891.4,1186.8 894.9,1189.9 900.4,1181.7 901.1,1180.4 903.8,1185.8 906.9,1186.4 910.0,1185.1 912.0,1187.2 916.8,1180.4 919.5,1187.2 922.2,1202.2 925.0,1229.4 927.7,1228.1 930.4,1216.5 933.8,1217.8 935.9,1206.3 939.9,1204.9 942.7,1191.3 946.8,1188.6 949.5,1192.6 951.5,1188.6 954.9,1196.7 958.1,1197.9 961.3,1197.8 964.5,1196.7 967.9,1189.9 971.6,1192.1 975.4,1194.0 980.8,1189.9 984.9,1188.1 989.0,1185.1 992.4,1182.7 995.8,1181.7 999.9,1179.0 1002.6,1184.5 1006.7,1189.9 1009.9,1190.1 1013.1,1188.7 1016.2,1187.9 1019.6,1187.1 1023.1,1186.4 1026.5,1188.3 1029.9,1187.2 1033.3,1188.6 1036.7,1186.5 1040.1,1188.5 1043.5,1187.9 1047.6,1185.3 1051.7,1183.1 1055.7,1161.3 1058.5,1150.4 1063.9,1155.9 1068.0,1153.8 1073.5,1159.9 1078.9,1165.4 1084.4,1168.1 1087.8,1167.9 1091.2,1169.5 1094.6,1170.3 1098.0,1172.2 1103.4,1164.0 1107.5,1165.4 1110.2,1172.2 1114.3,1172.2 1118.4,1170.8 1122.5,1168.1 1124.6,1181.7 1126.6,1173.6 1130.7,1176.3 1134.8,1169.5 1137.5,1170.8 1138.9,1164.0 1144.3,1155.9 1145.5,1100.0 1146.5,980.0 1147.3,790.0 1148.4,975.8 1151.0,970.0 1153.5,988.7 1158.7,1024.7 1163.8,1091.7 1169.0,1117.0 1172.9,1132.0 1176.8,1145.0 1180.2,1149.9 1183.6,1157.2 1187.0,1164.3 1190.4,1170.9 1193.8,1170.4 1197.3,1172.2 1200.7,1175.5 1204.1,1177.7 1208.2,1184.5 1213.6,1181.8 1219.1,1188.6 1223.1,1188.8 1227.2,1189.9 1231.3,1188.9 1235.4,1185.8 1239.5,1185.0 1243.6,1181.8 1247.7,1183.8 1251.8,1185.8 1257.2,1188.6 1261.3,1188.5 1265.4,1185.8 1269.0,1186.3 1272.6,1186.6 1276.3,1188.6 1280.4,1186.8 1284.5,1184.5 1289.9,1176.3 1294.0,1173.0 1298.1,1172.2 1302.2,1169.4 1306.3,1168.1 1311.7,1165.4 1315.8,1161.3 1319.9,1164.0 1324.0,1165.8 1328.1,1168.1 1332.1,1171.1 1336.2,1173.6 1341.7,1179.0 1344.5,1175.0 1345.4,806.0 1348.0,795.0 1351.0,780.0 1353.5,765.0 1354.4,751.6 1355.7,610.0 1357.0,605.0 1358.3,674.0 1360.4,700.0 1362.2,751.6 1364.7,828.8 1367.8,901.0 1371.5,982.6 1377.0,1027.0 1380.7,1034.4 1386.3,1021.5 1390.0,1027.1 1393.7,1034.4 1397.4,1049.3 1401.0,1067.8 1407.4,1094.5 1411.2,1100.7 1414.9,1109.3 1420.4,1098.0 1425.3,1094.5 1427.8,1012.8 1430.0,922.5 1432.1,803.8 1433.4,812.3 1435.0,816.0 1437.1,882.8 1440.8,957.0 1444.6,1012.8 1448.3,1035.0 1452.0,1047.2 1455.7,1057.4 1461.3,1087.0 1466.8,1098.2 1470.5,1101.4 1474.3,1105.6 1478.0,1108.6 1481.7,1109.3 1487.3,1120.5 1491.0,1115.9 1494.7,1109.3 1498.4,1106.5 1502.1,1104.3 1505.8,1102.0 1508.9,1102.1 1512.0,1102.4 1515.1,1102.0 1519.0,1110.0 1522.5,1087.0 1528.1,1098.2 1532.7,1120.4 1536.8,1127.2 1540.9,1132.7 1546.3,1130.0 1551.8,1136.1 1557.2,1135.4 1562.7,1139.5 1566.8,1141.8 1570.9,1143.6 1574.3,1147.2 1577.7,1150.4 1581.8,1146.3 1587.2,1151.8 1591.3,1150.4 1594.0,1157.2 1596.8,1158.6 1599.5,1169.5 1602.2,1170.8 1606.3,1164.0 1611.7,1158.6 1615.1,1157.5 1618.6,1155.9 1622.6,1173.6 1626.7,1165.4 1631.5,1148.4 1633.5,1157.2 1639.0,1157.2 1643.1,1166.8 1645.8,1155.9 1648.5,1168.1 1654.0,1166.8 1657.4,1167.2 1660.8,1165.4 1666.2,1153.1 1669.0,1164.0 1674.4,1179.0 1679.9,1169.5 1684.0,1177.7 1686.7,1162.7 1690.1,1162.0 1693.5,1161.3 1696.2,1181.7 1701.7,1172.2 1707.1,1170.8 1709.8,1154.5 1715.3,1164.0 1719.4,1161.8 1723.5,1159.9 1727.5,1161.9 1731.6,1162.7 1735.3,1161.1 1738.9,1160.3 1742.5,1159.9 1748.0,1161.3 1752.1,1169.5 1755.5,1167.3 1758.9,1162.7 1761.6,1172.2 1765.7,1170.2 1769.8,1168.1 1775.2,1166.8 1778.6,1164.8 1782.0,1162.7 1785.4,1159.4 1788.9,1158.6 1792.3,1158.0 1795.7,1158.1 1799.1,1156.3 1802.5,1157.2 1806.6,1156.2 1810.7,1154.5 1816.1,1155.9 1821.6,1164.0 1824.3,1151.1 1829.7,1151.8 1833.5,1153.6 1837.3,1146.0 1839.9,1107.3 1843.8,1091.9 1847.6,1120.2 1851.5,1135.6 1854.0,1146.0 1856.0,1000.0 1858.8,804.8 1861.0,810.0 1863.6,826.7 1866.0,834.0 1868.5,894.5 1871.0,960.0 1873.4,991.5 1877.2,1043.0 1882.4,1073.8 1885.6,1080.6 1888.8,1086.7 1892.0,1089.4 1895.2,1094.4 1899.1,1104.7 1903.0,1084.1 1908.1,1089.3 1913.3,1099.6 1918.4,1104.7 1923.6,1117.6 1928.7,1125.3 1933.8,1135.6 1939.0,1143.3 1942.2,1139.8 1945.4,1135.6 1948.7,1140.7 1951.9,1146.0 1956.0,1146.5 1960.0,1146.0 1963.2,1145.6 1966.5,1146.0 1970.0,1149.8 1973.4,1166.9 1976.9,1158.3 1980.3,1170.4 1983.7,1160.1 1987.2,1154.9 1990.6,1165.2 1994.0,1160.6 1997.5,1154.9 2000.9,1155.5 2004.3,1154.9 2009.5,1153.2 2011.2,1160.1 2014.6,1159.7 2018.0,1161.8 2021.5,1159.3 2024.9,1159.2 2028.3,1165.2 2031.8,1182.4 2035.2,1175.5 2038.6,1170.4 2042.1,1192.7 2045.5,1197.8 2048.1,1213.2 2049.8,1182.4 2054.1,1185.8 2059.2,1177.2 2064.4,1187.5 2067.8,1173.8 2073.0,1170.4 2076.4,1169.1 2079.8,1166.9 2083.2,1169.8 2086.7,1170.4 2090.1,1168.8 2093.5,1168.6 2097.0,1170.2 2100.4,1172.1 2103.8,1171.7 2107.3,1170.5 2110.7,1170.4 2113.7,1168.7 2116.7,1167.8 2121.0,1189.2 2124.4,1206.4 2127.9,1190.9 2133.0,1196.1 2136.4,1189.2 2139.9,1196.1 2143.3,1175.5 2146.7,1173.8 2151.9,1180.6 2155.3,1177.6 2158.7,1175.5 2162.2,1176.9 2165.6,1178.9 2169.0,1175.5 2172.5,1177.5 2175.9,1178.9 2178.8,1178.4 2181.6,1178.6 2184.5,1178.9 2189.6,1168.6 2193.1,1160.9 2196.5,1173.8 2199.9,1187.5 2203.4,1177.2 2206.8,1177.1 2210.2,1175.5 2213.7,1172.6 2217.1,1172.1 2222.2,1168.6 2225.7,1172.1 2229.1,1182.4 2232.5,1166.9 2235.1,1180.6 2239.4,1165.2 2242.8,1173.8 2245.7,1174.5 2248.5,1175.5 2251.4,1175.5 2254.8,1176.7 2258.3,1178.9 2261.7,1175.6 2265.1,1173.8 2268.6,1176.3 2272.0,1177.2 2275.4,1174.0 2278.9,1172.1 2282.3,1178.9 2287.4,1172.1 2290.3,1169.3 2293.2,1167.9 2296.0,1166.1 2299.4,1165.7 2302.9,1163.3 2306.3,1163.5 2309.7,1162.2 2313.2,1161.8 2316.6,1160.1 2320.0,1159.2 2323.5,1158.6 2326.9,1156.2 2330.3,1154.9 2333.8,1156.4 2337.2,1155.2 2340.6,1156.6 2344.1,1161.8 2347.5,1172.1 2350.9,1182.4 2354.4,1172.1 2359.5,1178.9 2364.6,1175.5 2368.1,1166.9 2368.6,1166.1" fill="none" stroke="#555555" stroke-width="3.6" stroke-linejoin="round" stroke-linecap="round"/>
<polyline points="120.3,1174.3 121.4,1174.3 125.4,1168.1 128.6,1164.5 131.8,1160.9 135.0,1158.6 137.7,1166.8 140.4,1171.5 145.9,1170.8 148.6,1161.3 154.1,1165.4 157.2,1166.7 160.4,1166.1 163.6,1168.1 169.0,1169.5 173.1,1166.8 177.2,1173.6 179.9,1187.2 184.7,1194.0 188.1,1187.2 192.2,1185.8 197.7,1190.6 202.4,1168.8 205.8,1173.6 209.9,1181.7 215.4,1173.6 218.8,1174.3 222.2,1174.9 225.6,1170.2 229.0,1166.1 233.1,1172.9 237.2,1166.8 239.9,1172.9 244.0,1162.7 246.0,1172.2 249.4,1209.0 254.9,1206.3 257.6,1202.2 261.7,1200.1 265.1,1181.7 269.9,1175.6 274.0,1165.4 277.1,1161.1 280.3,1159.1 283.5,1155.9 286.2,1166.8 288.9,1162.7 292.3,1159.4 295.7,1158.6 299.2,1161.8 302.6,1165.4 308.0,1161.3 311.4,1164.3 314.8,1169.5 317.5,1164.0 320.3,1173.6 323.0,1174.9 325.7,1195.4 330.5,1207.6 335.3,1215.8 338.0,1198.1 340.7,1181.7 344.8,1180.4 350.2,1188.6 354.3,1183.1 358.4,1183.4 362.5,1185.8 366.6,1189.9 370.7,1182.4 374.3,1181.8 377.9,1182.4 381.6,1181.1 387.0,1159.9 390.4,1169.5 393.8,1157.2 396.6,1188.6 400.7,1204.9 404.7,1209.0 409.5,1215.8 411.6,1195.4 415.6,1187.2 420.0,1188.6 422.7,1181.7 426.1,1174.9 429.5,1183.1 435.0,1178.3 439.1,1183.1 444.5,1172.2 450.0,1180.4 454.1,1178.4 458.1,1178.3 462.2,1179.7 466.3,1182.4 470.4,1179.0 474.5,1174.9 478.6,1177.8 482.7,1178.3 488.1,1182.4 491.2,1178.9 494.3,1174.9 498.0,1176.0 501.7,1177.7 505.4,1176.4 509.0,1171.5 512.6,1170.2 516.3,1171.5 519.9,1170.5 523.5,1171.5 527.6,1170.6 531.7,1171.5 535.8,1172.6 539.9,1175.6 544.0,1172.7 548.1,1170.8 552.2,1173.4 556.2,1174.3 559.0,1179.0 561.7,1195.4 565.8,1183.1 571.2,1175.6 575.3,1176.5 579.4,1179.0 582.5,1177.2 585.5,1175.3 588.6,1172.6 591.7,1170.8 592.8,1159.3 594.4,1174.9 597.8,1174.0 601.2,1172.9 604.6,1172.1 608.0,1173.6 610.7,1170.8 611.4,1206.3 614.5,1204.4 617.5,1204.9 618.2,1167.4 620.3,1183.1 624.4,1200.8 627.8,1194.0 630.5,1202.2 634.6,1214.4 638.0,1195.4 640.7,1187.2 644.8,1178.3 649.6,1189.9 654.3,1181.7 658.4,1175.2 662.5,1170.2 665.9,1171.3 669.3,1171.5 673.4,1176.3 676.1,1206.3 680.2,1211.7 685.0,1211.0 687.0,1202.2 691.1,1206.3 693.2,1161.3 695.9,1181.7 700.0,1203.5 703.4,1198.1 706.1,1200.8 710.2,1195.4 712.9,1188.6 716.0,1181.1 719.2,1173.5 722.3,1166.7 726.1,1168.2 730.0,1169.3 735.2,1174.4 740.3,1171.8 745.5,1174.4 749.3,1174.3 753.2,1174.4 755.8,1169.3 759.6,1161.5 760.9,1068.8 763.5,1037.9 764.6,960.0 765.6,760.0 766.4,712.0 767.0,800.0 767.5,895.0 768.3,760.0 769.0,712.0 770.0,850.0 771.0,720.0 772.0,880.0 773.0,740.0 774.0,860.0 775.0,720.0 776.0,700.0 777.0,760.0 778.8,805.0 781.2,820.0 783.8,857.5 786.0,910.0 788.0,950.0 790.0,990.0 791.8,1030.2 795.7,1084.3 800.8,1110.0 804.7,1135.8 809.9,1151.2 813.7,1155.9 817.6,1161.5 822.7,1171.8 826.6,1177.8 830.5,1182.1 834.3,1185.2 838.2,1187.3 843.3,1192.4 847.2,1205.3 849.8,1225.9 853.0,1224.0 856.2,1223.4 860.1,1225.9 864.0,1197.6 869.1,1200.2 873.0,1200.4 876.8,1200.2 880.7,1197.7 884.6,1195.0 887.8,1198.6 891.0,1200.2 893.6,1210.5 897.0,1212.4 900.4,1213.1 904.5,1211.7 908.6,1209.7 912.7,1208.3 915.4,1211.7 920.2,1204.9 922.2,1215.8 925.0,1219.9 927.7,1218.5 930.4,1221.3 931.8,1234.9 933.8,1230.8 935.2,1243.7 936.5,1232.2 938.6,1209.0 944.0,1207.6 948.1,1196.7 950.8,1209.0 953.6,1200.8 956.3,1206.3 959.0,1200.8 960.4,1217.2 965.8,1219.9 969.2,1215.9 972.6,1213.1 978.1,1209.0 983.5,1207.6 989.0,1206.3 994.4,1207.6 995.8,1184.5 998.5,1188.6 1002.6,1192.6 1008.1,1202.2 1010.8,1199.5 1016.2,1200.8 1021.7,1197.4 1025.8,1198.7 1029.9,1197.4 1033.5,1196.2 1037.1,1196.7 1040.8,1196.7 1046.2,1193.3 1051.7,1190.6 1054.4,1187.2 1055.7,1157.2 1059.8,1139.5 1063.2,1146.3 1065.3,1143.6 1068.0,1151.8 1070.7,1138.8 1073.5,1149.0 1076.2,1157.2 1080.3,1165.4 1083.0,1170.8 1085.7,1181.7 1089.8,1187.2 1092.5,1181.7 1096.6,1188.6 1099.3,1185.8 1100.7,1176.3 1106.2,1178.3 1110.2,1189.9 1113.7,1188.2 1117.1,1185.1 1122.5,1188.6 1126.6,1191.3 1130.7,1195.4 1133.4,1192.6 1136.1,1183.1 1140.2,1180.4 1142.3,1170.8 1144.3,1184.5 1146.3,1176.3 1146.3,1100.0 1147.0,900.0 1147.6,745.0 1149.3,745.0 1150.3,868.3 1152.0,930.0 1153.5,957.8 1156.0,973.0 1158.7,1014.4 1163.8,1066.0 1169.0,1117.4 1172.8,1129.3 1176.7,1143.0 1180.6,1150.8 1184.4,1158.6 1187.8,1163.4 1191.3,1171.0 1194.7,1176.6 1198.8,1184.0 1203.0,1190.0 1208.2,1195.4 1211.6,1198.3 1215.0,1200.8 1218.0,1201.1 1221.1,1199.0 1224.2,1199.3 1227.2,1198.1 1231.3,1204.9 1234.5,1205.2 1237.7,1205.1 1240.9,1204.9 1244.9,1206.2 1249.0,1207.6 1252.2,1207.6 1255.4,1207.0 1258.6,1204.9 1262.0,1206.2 1265.4,1207.6 1268.4,1208.1 1271.5,1206.5 1274.6,1208.2 1277.6,1207.6 1283.1,1202.2 1286.5,1200.5 1289.9,1198.1 1295.4,1189.9 1300.8,1192.7 1304.2,1193.9 1307.6,1192.7 1310.3,1184.5 1313.1,1158.6 1318.5,1123.2 1322.6,1140.9 1326.7,1161.3 1332.1,1185.8 1337.6,1194.0 1342.4,1199.5 1345.0,1150.0 1347.4,886.3 1349.3,860.0 1350.6,674.4 1351.9,610.0 1353.5,570.0 1355.7,520.0 1357.5,495.0 1359.6,484.6 1362.5,505.0 1365.0,545.0 1368.6,597.0 1372.5,700.0 1376.3,828.8 1378.5,880.0 1380.9,918.4 1385.0,895.0 1389.1,871.4 1393.0,877.0 1397.3,900.0 1401.4,951.2 1403.0,1068.5 1404.5,1001.7 1409.3,1042.5 1414.1,1053.6 1420.4,1024.0 1424.0,1020.0 1427.8,920.0 1430.0,800.0 1433.0,680.0 1435.1,623.0 1438.0,650.0 1441.0,720.0 1443.8,790.0 1444.4,828.4 1445.6,963.5 1447.2,865.2 1450.1,938.5 1455.7,994.2 1458.7,1012.8 1460.2,1057.4 1463.0,1040.0 1465.8,1049.5 1468.7,1057.4 1473.5,1076.0 1478.0,1053.6 1481.0,1046.2 1485.4,1068.5 1492.8,1105.6 1496.5,1110.6 1500.3,1116.8 1504.0,1118.4 1507.7,1120.5 1513.3,1126.0 1516.4,1127.4 1519.6,1128.0 1520.7,1038.8 1526.3,1035.0 1528.1,1094.5 1530.9,1104.4 1533.7,1116.8 1536.8,1135.4 1540.2,1139.4 1543.6,1143.6 1546.3,1146.3 1550.4,1142.2 1553.8,1142.7 1557.2,1145.0 1562.0,1143.6 1564.1,1128.6 1566.8,1134.1 1570.2,1135.1 1573.6,1138.1 1577.0,1139.0 1580.4,1142.2 1583.8,1146.3 1587.2,1149.0 1592.7,1151.8 1596.8,1158.6 1598.8,1181.7 1602.2,1184.5 1606.3,1195.4 1609.0,1199.5 1611.7,1188.6 1617.2,1177.7 1619.9,1180.4 1624.0,1189.9 1628.1,1181.7 1633.5,1162.7 1636.3,1169.5 1639.7,1170.6 1643.1,1173.6 1645.8,1179.0 1649.2,1177.0 1652.6,1176.3 1656.7,1176.0 1660.8,1176.3 1666.2,1165.4 1669.0,1168.1 1670.3,1181.7 1674.4,1188.6 1677.1,1195.4 1679.9,1199.5 1682.6,1215.8 1684.6,1219.9 1686.7,1206.3 1689.4,1196.7 1692.8,1200.8 1694.9,1184.5 1697.6,1195.4 1698.9,1211.7 1701.7,1198.1 1705.7,1184.5 1708.5,1187.2 1711.2,1165.4 1713.9,1177.7 1718.0,1180.4 1723.5,1174.9 1726.9,1178.6 1730.3,1180.4 1734.4,1175.6 1738.4,1175.5 1742.5,1177.7 1748.0,1177.7 1752.1,1184.5 1756.2,1198.1 1761.6,1203.5 1767.1,1194.0 1772.5,1191.3 1778.0,1187.2 1781.4,1184.0 1784.8,1181.1 1788.2,1181.5 1791.6,1181.7 1797.0,1179.0 1800.7,1179.6 1804.3,1178.9 1807.9,1177.7 1812.0,1177.9 1816.1,1176.3 1819.3,1174.4 1822.5,1173.3 1825.6,1172.2 1829.7,1184.5 1832.2,1183.2 1837.3,1171.7 1841.2,1120.2 1843.8,1099.6 1846.0,1115.0 1850.2,1140.8 1852.8,1164.0 1854.5,1156.0 1855.3,1043.0 1857.1,940.0 1857.6,804.8 1858.8,739.4 1860.0,700.0 1861.2,664.2 1862.5,666.0 1863.6,732.1 1865.0,725.0 1867.3,720.0 1868.5,760.0 1870.9,834.0 1873.3,906.7 1875.8,960.0 1876.5,991.5 1879.8,1037.8 1883.6,1043.0 1887.5,1068.7 1892.7,1084.1 1896.5,1104.7 1899.1,1117.6 1901.7,1094.0 1905.5,1043.0 1908.0,1051.0 1910.7,1084.1 1915.8,1094.4 1921.0,1109.9 1926.1,1130.5 1931.3,1146.0 1936.4,1148.5 1941.6,1153.6 1946.7,1143.3 1950.6,1151.0 1953.8,1151.9 1957.0,1153.6 1960.8,1157.2 1964.7,1158.8 1968.6,1164.0 1970.0,1168.6 1973.4,1177.2 1976.9,1199.5 1982.0,1213.2 1985.4,1203.0 1987.2,1187.5 1990.6,1190.9 1992.3,1197.8 1997.5,1175.5 2000.9,1180.6 2004.3,1189.2 2007.7,1166.9 2011.2,1180.6 2014.6,1180.1 2018.0,1177.2 2021.5,1173.7 2024.9,1172.1 2028.3,1173.8 2031.8,1177.2 2035.2,1177.4 2038.6,1178.9 2043.8,1185.8 2045.5,1197.8 2048.9,1184.1 2052.4,1189.2 2055.8,1196.1 2059.2,1184.1 2062.7,1187.7 2066.1,1192.7 2071.2,1182.4 2076.4,1185.8 2081.5,1172.1 2086.7,1170.4 2090.1,1173.7 2093.5,1177.2 2097.0,1178.3 2100.4,1178.9 2103.8,1184.1 2107.3,1181.7 2110.7,1180.6 2114.1,1178.5 2117.6,1178.9 2121.0,1190.9 2124.4,1196.1 2129.6,1204.7 2132.1,1216.7 2136.4,1206.4 2139.9,1197.8 2145.0,1190.9 2150.2,1194.4 2155.3,1184.1 2160.5,1182.4 2165.6,1185.8 2169.0,1178.9 2174.2,1185.8 2179.3,1190.9 2182.8,1188.2 2186.2,1185.8 2191.3,1172.1 2193.1,1170.4 2194.8,1189.2 2198.2,1193.2 2201.6,1197.8 2206.8,1204.7 2211.9,1203.0 2217.1,1194.4 2220.5,1192.0 2223.9,1189.2 2227.4,1196.4 2230.8,1201.2 2234.2,1194.4 2237.7,1193.2 2241.1,1190.9 2242.8,1178.9 2248.0,1185.8 2251.4,1185.8 2254.8,1185.8 2260.0,1189.2 2265.1,1178.9 2268.6,1184.4 2272.0,1189.2 2277.1,1190.9 2280.6,1185.8 2283.1,1211.5 2285.7,1190.9 2289.1,1188.8 2292.6,1185.8 2295.4,1184.6 2298.3,1186.8 2301.2,1185.8 2306.3,1184.1 2309.7,1183.1 2313.2,1180.6 2316.0,1180.5 2318.9,1179.1 2321.8,1177.2 2326.9,1178.9 2330.3,1176.1 2333.8,1173.8 2337.2,1175.2 2340.6,1177.2 2344.1,1180.5 2347.5,1185.8 2350.9,1203.0 2356.1,1211.5 2359.5,1220.1 2362.9,1213.2 2364.6,1201.2 2368.1,1216.7 2368.6,1216.7" fill="none" stroke="#ec3224" stroke-width="3.6" stroke-linejoin="round" stroke-linecap="round"/>
</g>
<line x1="1007.8" y1="873.6" x2="1063" y2="1041.6" stroke="#1f3cff" stroke-width="4.2" stroke-dasharray="20.3 14.3" stroke-dashoffset="18.6"/>
<line x1="1499.7" y1="629.1" x2="1771" y2="511.6" stroke="#333333" stroke-width="4.2" stroke-dasharray="20 14.8"/>
<text x="986" y="812.2" font-size="39.5" text-anchor="middle">Model</text>
<text x="986" y="859.9" font-size="39.5" text-anchor="middle">false alarm</text>
<text x="1799.6" y="520.6" font-size="39.5">Sensor fault</text>
<rect x="150.1" y="395.1" width="69" height="25.3" fill="#d3d3d3"/>
<line x1="148.8" y1="456.2" x2="219" y2="456.2" stroke="#555555" stroke-width="3.2"/>
<line x1="148.8" y1="505.4" x2="219" y2="505.4" stroke="#0000ff" stroke-width="3.2"/>
<line x1="148.8" y1="554.9" x2="219" y2="554.9" stroke="#ec3224" stroke-width="3.2"/>
<text x="258" y="420.4" font-size="38.3">Sensor 4 (raw data)</text>
<text x="257" y="471.3" font-size="38.3">Sensor 4 (outliers removed)</text>
<text x="256" y="523.8" font-size="38.3">Base model</text>
<text x="256" y="575.1" font-size="38.3">Digital twin model</text>
<g transform="translate(185,660) scale(0.24219)">
<clipPath id="cmap"><rect x="30" y="30" width="923" height="1260"/></clipPath>
<rect x="30" y="30" width="923" height="1260" fill="#d1e3cd"/>
<g clip-path="url(#cmap)" fill="none" stroke="#98c790" stroke-width="4.5" stroke-linejoin="round">
<polyline points="30,160 60,190 90,240 150,245 215,245 240,270 280,300 300,310 310,350 360,375 410,385 440,380"/>
<polyline points="550,30 530,60 500,100 480,130 470,170 480,200 470,220 460,235 445,250 440,265"/>
<polyline points="540,245 590,240 640,250 680,270 710,290 750,280 790,270 810,265 820,230 840,215 870,230 900,245 955,235"/>
<polyline points="30,550 60,545 95,545 105,600 160,605 230,615 260,625 310,612 350,620 400,620"/>
<polyline points="555,655 650,665 770,678 800,690 830,740 880,755 955,772"/>
<polyline points="790,1295 830,1220 860,1215 900,1170 955,1110"/>
<polyline points="820,1295 840,1230"/>
</g>
<g clip-path="url(#cmap)" fill="none" stroke="#0a0af0" stroke-width="11" stroke-linejoin="round" stroke-linecap="round">
<polyline points="370,25 375,40 395,60 400,100 395,160 385,230 395,280 420,320 445,345 460,380 462,430 462,480 470,540 480,590 470,620 450,660 420,690 380,720 370,750 380,790 410,830 440,890 470,950 490,990 500,1040 505,1080 490,1110 460,1140 420,1165 370,1185 350,1220 340,1260 335,1295"/>
<polyline points="490,270 490,240 520,210 560,180 600,155 630,145 670,155 700,160 730,145 750,110 780,95 810,80 820,55 840,40 860,35 890,32"/>
</g>
</g>
<polygon points="286.9,726.0 320.2,726.0 303.6,754.2" fill="#e07a3c"/><polygon points="295.8,731.3 311.4,731.3 303.6,744.0" fill="#f4be3c"/>
<polygon points="285.2,777.5 318.4,777.5 301.8,805.7" fill="#e07a3c"/><polygon points="294.0,782.8 309.6,782.8 301.8,795.5" fill="#f4be3c"/>
<polygon points="278.7,810.8 311.9,810.8 295.3,839.0" fill="#e07a3c"/><polygon points="287.5,816.1 303.1,816.1 295.3,828.8" fill="#f4be3c"/>
<polygon points="291.2,891.8 324.4,891.8 307.8,920.0" fill="#e07a3c"/><polygon points="300.0,897.1 315.6,897.1 307.8,909.8" fill="#f4be3c"/>
<circle cx="306.7" cy="901.9" r="39.7" fill="none" stroke="#ec50ec" stroke-width="5.3"/>

<defs><clipPath id="cph"><rect x="433.5" y="665.3" width="207.9" height="304.7"/></clipPath><filter id="pb2" x="-20%" y="-20%" width="140%" height="140%"><feGaussianBlur stdDeviation="1.6"/></filter><filter id="pb1" x="-20%" y="-20%" width="140%" height="140%"><feGaussianBlur stdDeviation="0.7"/></filter></defs>
<g clip-path="url(#cph)">
<rect x="432.5" y="664.3" width="110.0" height="306.7" fill="#b1a89c"/>
<g><circle cx="456.1" cy="831.0" r="1.2" fill="#c2a58f" opacity="0.7"/><circle cx="479.0" cy="842.2" r="0.6" fill="#8f867b" opacity="0.7"/><circle cx="514.2" cy="744.1" r="0.7" fill="#9e9385" opacity="0.7"/><circle cx="502.6" cy="830.0" r="0.9" fill="#8f867b" opacity="0.7"/><circle cx="495.0" cy="710.9" r="1.2" fill="#9e9385" opacity="0.7"/><circle cx="483.7" cy="891.1" r="0.7" fill="#c9bfb2" opacity="0.7"/><circle cx="525.9" cy="678.1" r="1.2" fill="#c9bfb2" opacity="0.7"/><circle cx="459.1" cy="846.4" r="1.1" fill="#d6d0c6" opacity="0.7"/><circle cx="522.3" cy="785.5" r="0.9" fill="#8f867b" opacity="0.7"/><circle cx="523.8" cy="933.1" r="0.6" fill="#c9bfb2" opacity="0.7"/><circle cx="481.0" cy="743.7" r="1.1" fill="#d6d0c6" opacity="0.7"/><circle cx="516.0" cy="793.5" r="1.0" fill="#d6d0c6" opacity="0.7"/><circle cx="484.8" cy="789.3" r="1.2" fill="#9e9385" opacity="0.7"/><circle cx="499.2" cy="948.3" r="1.3" fill="#c2a58f" opacity="0.7"/><circle cx="498.1" cy="714.7" r="1.3" fill="#c2a58f" opacity="0.7"/><circle cx="520.8" cy="838.6" r="1.0" fill="#9e9385" opacity="0.7"/><circle cx="528.8" cy="746.5" r="0.6" fill="#c9bfb2" opacity="0.7"/><circle cx="515.8" cy="966.9" r="0.8" fill="#c9bfb2" opacity="0.7"/><circle cx="439.5" cy="938.6" r="0.8" fill="#c9bfb2" opacity="0.7"/><circle cx="507.6" cy="931.2" r="1.0" fill="#c9bfb2" opacity="0.7"/><circle cx="506.9" cy="780.2" r="0.8" fill="#8f867b" opacity="0.7"/><circle cx="518.4" cy="964.1" r="0.8" fill="#8f867b" opacity="0.7"/><circle cx="436.5" cy="667.2" r="1.0" fill="#c9bfb2" opacity="0.7"/><circle cx="436.0" cy="725.2" r="0.8" fill="#d6d0c6" opacity="0.7"/><circle cx="458.5" cy="875.4" r="0.8" fill="#c2a58f" opacity="0.7"/><circle cx="526.0" cy="938.5" r="0.9" fill="#d6d0c6" opacity="0.7"/><circle cx="517.4" cy="782.8" r="1.1" fill="#8f867b" opacity="0.7"/><circle cx="442.9" cy="961.7" r="0.8" fill="#8f867b" opacity="0.7"/><circle cx="494.5" cy="883.3" r="0.9" fill="#c2a58f" opacity="0.7"/><circle cx="458.0" cy="757.4" r="0.6" fill="#c2a58f" opacity="0.7"/><circle cx="473.3" cy="841.9" r="0.9" fill="#c9bfb2" opacity="0.7"/><circle cx="490.2" cy="705.6" r="0.9" fill="#c2a58f" opacity="0.7"/><circle cx="498.9" cy="772.5" r="1.1" fill="#c2a58f" opacity="0.7"/><circle cx="435.2" cy="683.5" r="1.3" fill="#c9bfb2" opacity="0.7"/><circle cx="457.4" cy="804.2" r="1.0" fill="#8f867b" opacity="0.7"/><circle cx="450.2" cy="721.5" r="1.2" fill="#c2a58f" opacity="0.7"/><circle cx="458.6" cy="905.1" r="1.1" fill="#c9bfb2" opacity="0.7"/><circle cx="435.6" cy="838.6" r="0.8" fill="#9e9385" opacity="0.7"/><circle cx="454.6" cy="910.2" r="0.8" fill="#9e9385" opacity="0.7"/><circle cx="498.8" cy="863.1" r="0.7" fill="#c9bfb2" opacity="0.7"/><circle cx="464.2" cy="766.8" r="0.9" fill="#9e9385" opacity="0.7"/><circle cx="516.0" cy="716.6" r="1.1" fill="#c2a58f" opacity="0.7"/><circle cx="454.1" cy="838.4" r="0.8" fill="#c2a58f" opacity="0.7"/><circle cx="444.7" cy="826.5" r="0.8" fill="#9e9385" opacity="0.7"/><circle cx="514.1" cy="840.3" r="0.8" fill="#c2a58f" opacity="0.7"/><circle cx="513.3" cy="691.1" r="0.8" fill="#8f867b" opacity="0.7"/><circle cx="445.6" cy="754.0" r="0.9" fill="#c2a58f" opacity="0.7"/><circle cx="494.5" cy="753.6" r="0.9" fill="#8f867b" opacity="0.7"/><circle cx="522.3" cy="712.6" r="0.9" fill="#c9bfb2" opacity="0.7"/><circle cx="513.8" cy="854.9" r="0.9" fill="#8f867b" opacity="0.7"/><circle cx="525.2" cy="947.9" r="0.6" fill="#9e9385" opacity="0.7"/><circle cx="477.3" cy="894.8" r="1.3" fill="#8f867b" opacity="0.7"/><circle cx="485.8" cy="936.4" r="1.2" fill="#c9bfb2" opacity="0.7"/><circle cx="527.2" cy="701.6" r="0.6" fill="#9e9385" opacity="0.7"/><circle cx="520.7" cy="876.6" r="1.2" fill="#9e9385" opacity="0.7"/><circle cx="520.3" cy="841.0" r="0.9" fill="#c9bfb2" opacity="0.7"/><circle cx="444.7" cy="818.5" r="1.1" fill="#9e9385" opacity="0.7"/><circle cx="483.9" cy="791.2" r="0.7" fill="#8f867b" opacity="0.7"/><circle cx="445.2" cy="961.5" r="0.9" fill="#8f867b" opacity="0.7"/><circle cx="508.9" cy="772.3" r="0.7" fill="#9e9385" opacity="0.7"/><circle cx="519.1" cy="701.4" r="1.2" fill="#9e9385" opacity="0.7"/><circle cx="522.4" cy="910.8" r="0.9" fill="#c9bfb2" opacity="0.7"/><circle cx="488.4" cy="787.1" r="0.8" fill="#c2a58f" opacity="0.7"/><circle cx="493.0" cy="823.5" r="0.9" fill="#c9bfb2" opacity="0.7"/><circle cx="508.3" cy="665.6" r="1.1" fill="#c9bfb2" opacity="0.7"/><circle cx="437.5" cy="680.2" r="1.3" fill="#d6d0c6" opacity="0.7"/><circle cx="515.9" cy="691.3" r="0.9" fill="#8f867b" opacity="0.7"/><circle cx="448.2" cy="686.9" r="1.1" fill="#d6d0c6" opacity="0.7"/><circle cx="489.9" cy="775.1" r="1.3" fill="#9e9385" opacity="0.7"/><circle cx="474.6" cy="703.9" r="1.1" fill="#c9bfb2" opacity="0.7"/><circle cx="469.9" cy="689.4" r="0.6" fill="#9e9385" opacity="0.7"/><circle cx="477.7" cy="863.3" r="0.9" fill="#8f867b" opacity="0.7"/><circle cx="510.7" cy="855.0" r="0.6" fill="#d6d0c6" opacity="0.7"/><circle cx="493.9" cy="896.8" r="0.9" fill="#c2a58f" opacity="0.7"/><circle cx="500.3" cy="805.6" r="0.8" fill="#9e9385" opacity="0.7"/><circle cx="459.2" cy="844.9" r="0.8" fill="#d6d0c6" opacity="0.7"/><circle cx="445.6" cy="673.6" r="0.9" fill="#c2a58f" opacity="0.7"/><circle cx="520.1" cy="906.2" r="0.7" fill="#c2a58f" opacity="0.7"/><circle cx="500.0" cy="951.4" r="1.2" fill="#8f867b" opacity="0.7"/><circle cx="497.8" cy="888.8" r="1.0" fill="#8f867b" opacity="0.7"/><circle cx="511.7" cy="883.6" r="0.7" fill="#d6d0c6" opacity="0.7"/><circle cx="508.1" cy="678.5" r="1.0" fill="#c9bfb2" opacity="0.7"/><circle cx="496.9" cy="779.6" r="0.8" fill="#c9bfb2" opacity="0.7"/><circle cx="515.7" cy="672.8" r="1.1" fill="#c9bfb2" opacity="0.7"/><circle cx="514.1" cy="955.5" r="0.8" fill="#8f867b" opacity="0.7"/><circle cx="441.6" cy="968.9" r="1.0" fill="#8f867b" opacity="0.7"/><circle cx="502.4" cy="697.6" r="1.3" fill="#c9bfb2" opacity="0.7"/><circle cx="438.9" cy="763.9" r="0.7" fill="#8f867b" opacity="0.7"/><circle cx="440.5" cy="969.5" r="0.9" fill="#9e9385" opacity="0.7"/><circle cx="500.9" cy="952.5" r="0.9" fill="#c2a58f" opacity="0.7"/><circle cx="471.5" cy="771.8" r="1.3" fill="#d6d0c6" opacity="0.7"/><circle cx="469.4" cy="736.8" r="1.2" fill="#d6d0c6" opacity="0.7"/><circle cx="526.8" cy="791.7" r="1.1" fill="#8f867b" opacity="0.7"/><circle cx="498.4" cy="822.7" r="0.7" fill="#d6d0c6" opacity="0.7"/><circle cx="471.9" cy="935.7" r="0.7" fill="#9e9385" opacity="0.7"/><circle cx="505.6" cy="944.6" r="1.3" fill="#8f867b" opacity="0.7"/><circle cx="489.9" cy="926.7" r="0.8" fill="#9e9385" opacity="0.7"/><circle cx="452.3" cy="843.6" r="1.3" fill="#c2a58f" opacity="0.7"/><circle cx="515.6" cy="829.1" r="1.1" fill="#c2a58f" opacity="0.7"/><circle cx="516.0" cy="846.5" r="1.0" fill="#8f867b" opacity="0.7"/><circle cx="458.9" cy="731.4" r="0.8" fill="#c9bfb2" opacity="0.7"/><circle cx="511.0" cy="726.2" r="0.9" fill="#8f867b" opacity="0.7"/><circle cx="464.2" cy="901.1" r="0.9" fill="#9e9385" opacity="0.7"/><circle cx="500.7" cy="879.0" r="0.9" fill="#9e9385" opacity="0.7"/><circle cx="514.0" cy="915.6" r="0.6" fill="#8f867b" opacity="0.7"/><circle cx="529.3" cy="687.1" r="1.1" fill="#d6d0c6" opacity="0.7"/><circle cx="518.5" cy="679.0" r="1.2" fill="#9e9385" opacity="0.7"/><circle cx="495.9" cy="902.1" r="1.3" fill="#c9bfb2" opacity="0.7"/><circle cx="515.8" cy="738.8" r="1.1" fill="#9e9385" opacity="0.7"/><circle cx="446.3" cy="854.7" r="1.2" fill="#c9bfb2" opacity="0.7"/><circle cx="457.7" cy="928.9" r="0.7" fill="#c2a58f" opacity="0.7"/><circle cx="441.8" cy="908.7" r="0.7" fill="#c9bfb2" opacity="0.7"/><circle cx="513.9" cy="754.0" r="0.9" fill="#c2a58f" opacity="0.7"/><circle cx="504.2" cy="767.7" r="0.8" fill="#c9bfb2" opacity="0.7"/><circle cx="475.3" cy="813.2" r="1.1" fill="#9e9385" opacity="0.7"/><circle cx="505.0" cy="814.4" r="1.0" fill="#9e9385" opacity="0.7"/><circle cx="444.6" cy="748.8" r="0.7" fill="#d6d0c6" opacity="0.7"/><circle cx="519.1" cy="942.2" r="1.0" fill="#c9bfb2" opacity="0.7"/><circle cx="501.0" cy="871.9" r="1.1" fill="#c2a58f" opacity="0.7"/><circle cx="461.7" cy="871.1" r="0.7" fill="#c2a58f" opacity="0.7"/><circle cx="524.6" cy="768.3" r="1.0" fill="#8f867b" opacity="0.7"/><circle cx="444.0" cy="815.6" r="0.6" fill="#c2a58f" opacity="0.7"/><circle cx="461.6" cy="887.0" r="1.1" fill="#9e9385" opacity="0.7"/><circle cx="503.8" cy="710.6" r="1.2" fill="#c2a58f" opacity="0.7"/><circle cx="496.6" cy="702.6" r="0.7" fill="#8f867b" opacity="0.7"/><circle cx="465.2" cy="884.7" r="0.9" fill="#8f867b" opacity="0.7"/><circle cx="462.2" cy="722.0" r="0.8" fill="#d6d0c6" opacity="0.7"/><circle cx="450.1" cy="685.9" r="1.1" fill="#9e9385" opacity="0.7"/><circle cx="485.7" cy="890.6" r="0.7" fill="#c2a58f" opacity="0.7"/><circle cx="459.3" cy="681.3" r="0.6" fill="#9e9385" opacity="0.7"/><circle cx="482.0" cy="740.4" r="0.8" fill="#8f867b" opacity="0.7"/><circle cx="465.3" cy="788.0" r="1.2" fill="#8f867b" opacity="0.7"/><circle cx="439.7" cy="816.9" r="0.7" fill="#c9bfb2" opacity="0.7"/><circle cx="490.2" cy="872.9" r="1.1" fill="#8f867b" opacity="0.7"/><circle cx="503.5" cy="721.4" r="1.0" fill="#9e9385" opacity="0.7"/><circle cx="498.0" cy="784.3" r="1.0" fill="#9e9385" opacity="0.7"/><circle cx="447.2" cy="786.5" r="1.0" fill="#9e9385" opacity="0.7"/><circle cx="449.5" cy="719.6" r="0.9" fill="#c2a58f" opacity="0.7"/><circle cx="461.4" cy="921.9" r="1.2" fill="#d6d0c6" opacity="0.7"/><circle cx="525.1" cy="781.9" r="1.2" fill="#8f867b" opacity="0.7"/><circle cx="463.0" cy="816.8" r="1.1" fill="#8f867b" opacity="0.7"/><circle cx="462.0" cy="927.3" r="0.6" fill="#d6d0c6" opacity="0.7"/><circle cx="451.5" cy="858.4" r="1.1" fill="#c9bfb2" opacity="0.7"/><circle cx="497.2" cy="815.0" r="1.0" fill="#8f867b" opacity="0.7"/><circle cx="452.3" cy="903.6" r="0.6" fill="#9e9385" opacity="0.7"/><circle cx="481.5" cy="862.0" r="0.7" fill="#d6d0c6" opacity="0.7"/><circle cx="460.5" cy="865.5" r="0.7" fill="#9e9385" opacity="0.7"/><circle cx="509.9" cy="855.1" r="0.6" fill="#c9bfb2" opacity="0.7"/><circle cx="493.0" cy="819.3" r="1.0" fill="#d6d0c6" opacity="0.7"/><circle cx="523.2" cy="763.6" r="1.1" fill="#c2a58f" opacity="0.7"/><circle cx="446.0" cy="926.8" r="1.1" fill="#8f867b" opacity="0.7"/><circle cx="436.3" cy="689.4" r="1.3" fill="#c2a58f" opacity="0.7"/><circle cx="452.9" cy="684.3" r="0.9" fill="#9e9385" opacity="0.7"/><circle cx="506.4" cy="812.9" r="1.2" fill="#c9bfb2" opacity="0.7"/><circle cx="472.6" cy="922.8" r="0.9" fill="#9e9385" opacity="0.7"/><circle cx="478.9" cy="685.7" r="0.7" fill="#d6d0c6" opacity="0.7"/><circle cx="480.4" cy="672.1" r="1.1" fill="#d6d0c6" opacity="0.7"/><circle cx="471.9" cy="720.1" r="1.1" fill="#c9bfb2" opacity="0.7"/><circle cx="468.6" cy="778.1" r="0.9" fill="#8f867b" opacity="0.7"/><circle cx="472.0" cy="960.8" r="0.8" fill="#9e9385" opacity="0.7"/><circle cx="468.9" cy="925.9" r="0.7" fill="#8f867b" opacity="0.7"/><circle cx="453.3" cy="717.1" r="1.0" fill="#d6d0c6" opacity="0.7"/><circle cx="494.8" cy="707.5" r="0.7" fill="#8f867b" opacity="0.7"/><circle cx="480.6" cy="683.2" r="0.9" fill="#c9bfb2" opacity="0.7"/><circle cx="463.8" cy="675.0" r="0.8" fill="#c9bfb2" opacity="0.7"/><circle cx="436.8" cy="815.4" r="0.8" fill="#9e9385" opacity="0.7"/><circle cx="470.7" cy="723.1" r="1.0" fill="#c2a58f" opacity="0.7"/><circle cx="466.6" cy="702.8" r="1.2" fill="#c9bfb2" opacity="0.7"/><circle cx="461.2" cy="964.3" r="1.2" fill="#d6d0c6" opacity="0.7"/><circle cx="526.3" cy="814.0" r="0.8" fill="#8f867b" opacity="0.7"/><circle cx="512.0" cy="856.9" r="0.8" fill="#c2a58f" opacity="0.7"/><circle cx="438.5" cy="797.8" r="1.0" fill="#c9bfb2" opacity="0.7"/><circle cx="433.4" cy="674.2" r="0.6" fill="#c9bfb2" opacity="0.7"/><circle cx="481.8" cy="812.0" r="1.1" fill="#9e9385" opacity="0.7"/><circle cx="520.3" cy="726.2" r="0.8" fill="#d6d0c6" opacity="0.7"/><circle cx="479.4" cy="772.2" r="0.9" fill="#c9bfb2" opacity="0.7"/><circle cx="505.9" cy="857.6" r="0.7" fill="#d6d0c6" opacity="0.7"/><circle cx="461.5" cy="924.2" r="1.0" fill="#c9bfb2" opacity="0.7"/><circle cx="486.1" cy="828.6" r="0.7" fill="#d6d0c6" opacity="0.7"/><circle cx="504.8" cy="888.9" r="0.9" fill="#8f867b" opacity="0.7"/><circle cx="450.8" cy="909.5" r="0.8" fill="#d6d0c6" opacity="0.7"/><circle cx="508.6" cy="811.6" r="1.2" fill="#c2a58f" opacity="0.7"/><circle cx="482.2" cy="894.6" r="1.3" fill="#d6d0c6" opacity="0.7"/><circle cx="437.1" cy="717.4" r="1.2" fill="#c9bfb2" opacity="0.7"/><circle cx="441.9" cy="876.0" r="0.8" fill="#c9bfb2" opacity="0.7"/><circle cx="491.3" cy="909.4" r="1.2" fill="#c9bfb2" opacity="0.7"/><circle cx="517.6" cy="802.2" r="1.3" fill="#c2a58f" opacity="0.7"/><circle cx="433.2" cy="724.4" r="0.8" fill="#c9bfb2" opacity="0.7"/><circle cx="463.2" cy="802.3" r="0.8" fill="#9e9385" opacity="0.7"/><circle cx="437.7" cy="711.6" r="1.0" fill="#9e9385" opacity="0.7"/><circle cx="434.1" cy="735.1" r="0.8" fill="#9e9385" opacity="0.7"/><circle cx="487.6" cy="793.0" r="0.8" fill="#8f867b" opacity="0.7"/><circle cx="518.6" cy="903.6" r="0.7" fill="#d6d0c6" opacity="0.7"/><circle cx="440.7" cy="916.8" r="1.0" fill="#c9bfb2" opacity="0.7"/><circle cx="516.3" cy="695.9" r="0.7" fill="#c2a58f" opacity="0.7"/><circle cx="478.1" cy="732.9" r="0.7" fill="#8f867b" opacity="0.7"/><circle cx="480.1" cy="868.9" r="0.9" fill="#c2a58f" opacity="0.7"/><circle cx="497.1" cy="902.2" r="1.2" fill="#c2a58f" opacity="0.7"/><circle cx="490.7" cy="913.5" r="0.7" fill="#9e9385" opacity="0.7"/><circle cx="433.7" cy="756.3" r="0.8" fill="#c9bfb2" opacity="0.7"/><circle cx="451.6" cy="894.8" r="1.1" fill="#8f867b" opacity="0.7"/><circle cx="468.4" cy="904.2" r="1.0" fill="#c9bfb2" opacity="0.7"/><circle cx="453.8" cy="771.9" r="0.8" fill="#c9bfb2" opacity="0.7"/><circle cx="474.8" cy="690.7" r="0.8" fill="#9e9385" opacity="0.7"/><circle cx="505.7" cy="728.1" r="1.2" fill="#9e9385" opacity="0.7"/><circle cx="528.7" cy="851.7" r="1.2" fill="#8f867b" opacity="0.7"/><circle cx="468.7" cy="723.3" r="1.3" fill="#8f867b" opacity="0.7"/><circle cx="480.0" cy="900.9" r="0.9" fill="#d6d0c6" opacity="0.7"/><circle cx="490.0" cy="675.7" r="0.7" fill="#c9bfb2" opacity="0.7"/><circle cx="442.3" cy="885.3" r="1.0" fill="#c2a58f" opacity="0.7"/><circle cx="439.0" cy="809.0" r="1.1" fill="#9e9385" opacity="0.7"/><circle cx="459.8" cy="796.9" r="0.9" fill="#c2a58f" opacity="0.7"/><circle cx="452.1" cy="903.5" r="0.7" fill="#9e9385" opacity="0.7"/><circle cx="462.0" cy="790.4" r="0.7" fill="#c9bfb2" opacity="0.7"/><circle cx="480.3" cy="912.0" r="1.3" fill="#c2a58f" opacity="0.7"/><circle cx="528.0" cy="932.2" r="1.3" fill="#c2a58f" opacity="0.7"/><circle cx="474.8" cy="951.7" r="1.0" fill="#d6d0c6" opacity="0.7"/><circle cx="485.6" cy="774.7" r="0.8" fill="#c2a58f" opacity="0.7"/><circle cx="477.9" cy="935.5" r="1.1" fill="#c2a58f" opacity="0.7"/><circle cx="523.2" cy="823.5" r="0.7" fill="#c9bfb2" opacity="0.7"/><circle cx="484.5" cy="828.4" r="1.3" fill="#9e9385" opacity="0.7"/><circle cx="433.2" cy="965.0" r="0.8" fill="#d6d0c6" opacity="0.7"/><circle cx="526.7" cy="775.7" r="0.6" fill="#8f867b" opacity="0.7"/><circle cx="450.9" cy="669.0" r="1.2" fill="#d6d0c6" opacity="0.7"/><circle cx="514.0" cy="849.1" r="0.9" fill="#c9bfb2" opacity="0.7"/><circle cx="458.4" cy="870.0" r="0.9" fill="#d6d0c6" opacity="0.7"/><circle cx="458.3" cy="678.4" r="0.6" fill="#d6d0c6" opacity="0.7"/><circle cx="529.6" cy="715.5" r="0.8" fill="#8f867b" opacity="0.7"/><circle cx="446.2" cy="896.3" r="1.0" fill="#d6d0c6" opacity="0.7"/><circle cx="513.6" cy="833.3" r="0.6" fill="#c2a58f" opacity="0.7"/><circle cx="437.4" cy="813.2" r="1.2" fill="#c9bfb2" opacity="0.7"/><circle cx="520.9" cy="807.6" r="1.0" fill="#8f867b" opacity="0.7"/><circle cx="469.0" cy="857.8" r="0.7" fill="#c2a58f" opacity="0.7"/><circle cx="499.3" cy="967.6" r="0.7" fill="#8f867b" opacity="0.7"/><circle cx="508.1" cy="800.5" r="1.2" fill="#c2a58f" opacity="0.7"/><circle cx="476.9" cy="957.6" r="1.0" fill="#9e9385" opacity="0.7"/><circle cx="446.5" cy="676.5" r="1.2" fill="#d6d0c6" opacity="0.7"/><circle cx="513.3" cy="949.1" r="0.8" fill="#8f867b" opacity="0.7"/><circle cx="463.7" cy="847.3" r="0.9" fill="#c9bfb2" opacity="0.7"/><circle cx="460.1" cy="881.4" r="0.7" fill="#c2a58f" opacity="0.7"/><circle cx="497.9" cy="778.2" r="0.9" fill="#8f867b" opacity="0.7"/><circle cx="506.0" cy="917.1" r="0.7" fill="#d6d0c6" opacity="0.7"/><circle cx="522.3" cy="720.2" r="1.3" fill="#d6d0c6" opacity="0.7"/><circle cx="471.5" cy="680.0" r="1.3" fill="#9e9385" opacity="0.7"/><circle cx="524.5" cy="761.8" r="1.0" fill="#d6d0c6" opacity="0.7"/><circle cx="436.4" cy="792.3" r="1.3" fill="#d6d0c6" opacity="0.7"/><circle cx="440.7" cy="735.1" r="1.1" fill="#9e9385" opacity="0.7"/><circle cx="500.7" cy="700.1" r="1.0" fill="#c9bfb2" opacity="0.7"/><circle cx="512.3" cy="666.6" r="1.3" fill="#c2a58f" opacity="0.7"/><circle cx="500.1" cy="796.5" r="0.9" fill="#d6d0c6" opacity="0.7"/><circle cx="461.1" cy="835.7" r="0.8" fill="#9e9385" opacity="0.7"/><circle cx="525.9" cy="709.0" r="1.1" fill="#9e9385" opacity="0.7"/><circle cx="478.3" cy="786.3" r="0.7" fill="#c9bfb2" opacity="0.7"/><circle cx="438.3" cy="896.6" r="0.8" fill="#9e9385" opacity="0.7"/><circle cx="495.9" cy="704.9" r="0.6" fill="#9e9385" opacity="0.7"/><circle cx="526.2" cy="828.1" r="1.1" fill="#d6d0c6" opacity="0.7"/><circle cx="475.0" cy="720.4" r="0.8" fill="#c9bfb2" opacity="0.7"/><circle cx="445.7" cy="709.3" r="0.9" fill="#9e9385" opacity="0.7"/><circle cx="524.0" cy="849.1" r="0.6" fill="#9e9385" opacity="0.7"/><circle cx="469.0" cy="708.5" r="0.8" fill="#d6d0c6" opacity="0.7"/></g>
<g transform="translate(425,660) scale(0.24219)"><rect x="425" y="480" width="475" height="810" fill="#2e2913"/><g filter="url(#pb2)" opacity="0.7" transform="scale(1)"><ellipse cx="520" cy="1000" rx="80" ry="60" fill="#4a4220"/><ellipse cx="800" cy="1000" rx="90" ry="50" fill="#4a4220"/><ellipse cx="650" cy="880" rx="70" ry="40" fill="#4a4220"/><ellipse cx="560" cy="1180" rx="90" ry="50" fill="#4a4220"/><ellipse cx="850" cy="880" rx="50" ry="60" fill="#4a4220"/></g><g fill="#cbd4e2"><ellipse cx="790" cy="768" rx="15.2" ry="9.6" transform="rotate(5 790 768)" opacity="0.85"/><ellipse cx="741" cy="841" rx="10.2" ry="7.2" transform="rotate(-37 741 841)" opacity="0.57"/><ellipse cx="762" cy="627" rx="13.9" ry="10.4" transform="rotate(-55 762 627)" opacity="0.75"/><ellipse cx="779" cy="736" rx="13.1" ry="9.5" transform="rotate(19 779 736)" opacity="0.55"/><ellipse cx="804" cy="618" rx="7.1" ry="3.7" transform="rotate(-57 804 618)" opacity="0.82"/><ellipse cx="766" cy="777" rx="7.1" ry="3.7" transform="rotate(-23 766 777)" opacity="0.72"/><ellipse cx="830" cy="737" rx="8.1" ry="7.2" transform="rotate(59 830 737)" opacity="0.84"/><ellipse cx="838" cy="695" rx="7.5" ry="4.1" transform="rotate(-52 838 695)" opacity="0.74"/><ellipse cx="725" cy="632" rx="8.2" ry="3.6" transform="rotate(-58 725 632)" opacity="0.85"/><ellipse cx="705" cy="663" rx="15.0" ry="9.5" transform="rotate(30 705 663)" opacity="0.68"/><ellipse cx="719" cy="789" rx="13.6" ry="7.3" transform="rotate(-49 719 789)" opacity="0.65"/><ellipse cx="708" cy="723" rx="15.2" ry="7.1" transform="rotate(30 708 723)" opacity="0.58"/><ellipse cx="716" cy="839" rx="7.0" ry="4.7" transform="rotate(-3 716 839)" opacity="0.72"/><ellipse cx="890" cy="831" rx="9.6" ry="5.7" transform="rotate(-10 890 831)" opacity="0.69"/><ellipse cx="745" cy="681" rx="15.7" ry="12.6" transform="rotate(-22 745 681)" opacity="0.90"/><ellipse cx="709" cy="656" rx="16.0" ry="11.2" transform="rotate(13 709 656)" opacity="0.58"/><ellipse cx="891" cy="664" rx="7.8" ry="6.2" transform="rotate(-18 891 664)" opacity="0.84"/><ellipse cx="778" cy="622" rx="7.3" ry="5.2" transform="rotate(-59 778 622)" opacity="0.76"/><ellipse cx="775" cy="736" rx="15.6" ry="10.0" transform="rotate(13 775 736)" opacity="0.59"/><ellipse cx="778" cy="788" rx="8.4" ry="4.3" transform="rotate(18 778 788)" opacity="0.63"/><ellipse cx="741" cy="822" rx="15.3" ry="7.6" transform="rotate(-11 741 822)" opacity="0.86"/><ellipse cx="818" cy="726" rx="6.1" ry="2.6" transform="rotate(-28 818 726)" opacity="0.63"/><ellipse cx="837" cy="677" rx="14.1" ry="9.8" transform="rotate(-23 837 677)" opacity="0.73"/><ellipse cx="880" cy="893" rx="6.4" ry="4.1" transform="rotate(23 880 893)" opacity="0.85"/><ellipse cx="820" cy="684" rx="15.1" ry="7.6" transform="rotate(-58 820 684)" opacity="0.56"/><ellipse cx="782" cy="675" rx="5.5" ry="3.0" transform="rotate(7 782 675)" opacity="0.75"/><ellipse cx="730" cy="709" rx="14.8" ry="13.2" transform="rotate(24 730 709)" opacity="0.80"/><ellipse cx="803" cy="884" rx="11.5" ry="9.9" transform="rotate(0 803 884)" opacity="0.87"/><ellipse cx="837" cy="889" rx="5.2" ry="3.8" transform="rotate(1 837 889)" opacity="0.56"/><ellipse cx="763" cy="641" rx="5.8" ry="3.6" transform="rotate(-13 763 641)" opacity="0.81"/><ellipse cx="874" cy="821" rx="12.7" ry="10.1" transform="rotate(57 874 821)" opacity="0.66"/><ellipse cx="721" cy="742" rx="5.9" ry="4.9" transform="rotate(60 721 742)" opacity="0.82"/><ellipse cx="867" cy="772" rx="11.9" ry="7.0" transform="rotate(14 867 772)" opacity="0.54"/><ellipse cx="719" cy="627" rx="6.3" ry="3.3" transform="rotate(-7 719 627)" opacity="0.80"/><ellipse cx="778" cy="821" rx="11.4" ry="7.1" transform="rotate(47 778 821)" opacity="0.73"/><ellipse cx="803" cy="754" rx="8.4" ry="3.7" transform="rotate(-58 803 754)" opacity="0.62"/><ellipse cx="836" cy="749" rx="11.8" ry="10.1" transform="rotate(-28 836 749)" opacity="0.86"/><ellipse cx="774" cy="643" rx="11.7" ry="7.7" transform="rotate(36 774 643)" opacity="0.87"/><ellipse cx="829" cy="733" rx="14.8" ry="8.3" transform="rotate(25 829 733)" opacity="0.63"/><ellipse cx="824" cy="841" rx="13.3" ry="6.7" transform="rotate(-33 824 841)" opacity="0.68"/><ellipse cx="534" cy="951" rx="5.1" ry="3.3" transform="rotate(47 534 951)" opacity="0.77"/><ellipse cx="474" cy="910" rx="11.8" ry="9.6" transform="rotate(-46 474 910)" opacity="0.62"/><ellipse cx="500" cy="934" rx="7.3" ry="5.2" transform="rotate(3 500 934)" opacity="0.70"/><ellipse cx="549" cy="1035" rx="9.0" ry="5.0" transform="rotate(46 549 1035)" opacity="0.49"/><ellipse cx="566" cy="907" rx="9.7" ry="6.6" transform="rotate(-21 566 907)" opacity="0.69"/><ellipse cx="532" cy="1003" rx="7.2" ry="3.6" transform="rotate(38 532 1003)" opacity="0.75"/><ellipse cx="496" cy="923" rx="4.4" ry="3.1" transform="rotate(-3 496 923)" opacity="0.51"/><ellipse cx="529" cy="1002" rx="6.9" ry="3.1" transform="rotate(-35 529 1002)" opacity="0.54"/><ellipse cx="522" cy="929" rx="4.1" ry="2.6" transform="rotate(31 522 929)" opacity="0.49"/><ellipse cx="495" cy="1025" rx="8.3" ry="7.3" transform="rotate(4 495 1025)" opacity="0.68"/><ellipse cx="553" cy="963" rx="10.3" ry="8.8" transform="rotate(-49 553 963)" opacity="0.61"/><ellipse cx="568" cy="962" rx="7.6" ry="3.8" transform="rotate(53 568 962)" opacity="0.77"/><ellipse cx="511" cy="991" rx="11.0" ry="8.8" transform="rotate(60 511 991)" opacity="0.59"/><ellipse cx="506" cy="1057" rx="4.8" ry="4.0" transform="rotate(42 506 1057)" opacity="0.69"/><ellipse cx="549" cy="934" rx="11.2" ry="10.0" transform="rotate(-21 549 934)" opacity="0.65"/><ellipse cx="557" cy="951" rx="11.3" ry="9.3" transform="rotate(-16 557 951)" opacity="0.64"/><ellipse cx="474" cy="955" rx="7.4" ry="4.0" transform="rotate(57 474 955)" opacity="0.49"/><ellipse cx="559" cy="910" rx="10.4" ry="5.1" transform="rotate(-18 559 910)" opacity="0.70"/><ellipse cx="857" cy="992" rx="12.0" ry="10.2" transform="rotate(6 857 992)" opacity="0.75"/><ellipse cx="820" cy="1044" rx="7.9" ry="6.9" transform="rotate(-49 820 1044)" opacity="0.72"/><ellipse cx="780" cy="1001" rx="10.6" ry="7.2" transform="rotate(-39 780 1001)" opacity="0.65"/><ellipse cx="845" cy="1002" rx="6.5" ry="3.8" transform="rotate(48 845 1002)" opacity="0.76"/><ellipse cx="808" cy="973" rx="5.1" ry="3.4" transform="rotate(-26 808 973)" opacity="0.66"/><ellipse cx="742" cy="999" rx="8.0" ry="5.6" transform="rotate(-57 742 999)" opacity="0.65"/><ellipse cx="717" cy="1041" rx="8.4" ry="7.5" transform="rotate(-45 717 1041)" opacity="0.64"/><ellipse cx="821" cy="947" rx="8.3" ry="5.0" transform="rotate(42 821 947)" opacity="0.78"/><ellipse cx="753" cy="992" rx="5.0" ry="3.1" transform="rotate(44 753 992)" opacity="0.78"/><ellipse cx="857" cy="998" rx="4.9" ry="3.0" transform="rotate(-57 857 998)" opacity="0.78"/><ellipse cx="731" cy="1026" rx="4.2" ry="2.1" transform="rotate(-31 731 1026)" opacity="0.48"/><ellipse cx="755" cy="1020" rx="6.0" ry="3.9" transform="rotate(3 755 1020)" opacity="0.71"/><ellipse cx="730" cy="996" rx="6.0" ry="3.0" transform="rotate(7 730 996)" opacity="0.76"/><ellipse cx="714" cy="1010" rx="10.6" ry="7.5" transform="rotate(8 714 1010)" opacity="0.55"/><ellipse cx="811" cy="1010" rx="8.2" ry="6.8" transform="rotate(18 811 1010)" opacity="0.67"/><ellipse cx="732" cy="1041" rx="9.0" ry="5.2" transform="rotate(-37 732 1041)" opacity="0.58"/><ellipse cx="760" cy="1042" rx="5.7" ry="5.2" transform="rotate(53 760 1042)" opacity="0.51"/><ellipse cx="852" cy="955" rx="4.7" ry="2.8" transform="rotate(-5 852 955)" opacity="0.75"/><ellipse cx="648" cy="1242" rx="10.0" ry="6.0" transform="rotate(27 648 1242)" opacity="0.87"/><ellipse cx="511" cy="1203" rx="13.7" ry="11.1" transform="rotate(-14 511 1203)" opacity="0.61"/><ellipse cx="684" cy="1236" rx="16.0" ry="11.9" transform="rotate(-36 684 1236)" opacity="0.88"/><ellipse cx="674" cy="1104" rx="20.2" ry="14.3" transform="rotate(55 674 1104)" opacity="0.79"/><ellipse cx="532" cy="1133" rx="11.3" ry="9.2" transform="rotate(-24 532 1133)" opacity="0.92"/><ellipse cx="510" cy="1111" rx="23.2" ry="14.7" transform="rotate(37 510 1111)" opacity="0.61"/><ellipse cx="635" cy="1177" rx="13.7" ry="6.9" transform="rotate(-13 635 1177)" opacity="0.58"/><ellipse cx="767" cy="1252" rx="10.9" ry="6.8" transform="rotate(34 767 1252)" opacity="0.71"/><ellipse cx="860" cy="1209" rx="9.5" ry="7.6" transform="rotate(-19 860 1209)" opacity="0.91"/><ellipse cx="809" cy="1227" rx="21.8" ry="15.6" transform="rotate(-9 809 1227)" opacity="0.79"/><ellipse cx="551" cy="1205" rx="13.5" ry="10.5" transform="rotate(-25 551 1205)" opacity="0.92"/><ellipse cx="785" cy="1240" rx="21.0" ry="12.7" transform="rotate(54 785 1240)" opacity="0.70"/><ellipse cx="698" cy="1167" rx="14.9" ry="7.3" transform="rotate(-34 698 1167)" opacity="0.84"/><ellipse cx="500" cy="1162" rx="15.5" ry="6.3" transform="rotate(-15 500 1162)" opacity="0.95"/><ellipse cx="852" cy="1109" rx="12.4" ry="10.9" transform="rotate(-22 852 1109)" opacity="0.70"/><ellipse cx="749" cy="1203" rx="16.5" ry="9.8" transform="rotate(3 749 1203)" opacity="0.81"/><ellipse cx="767" cy="1237" rx="23.7" ry="9.7" transform="rotate(18 767 1237)" opacity="0.61"/><ellipse cx="570" cy="1180" rx="16.1" ry="12.5" transform="rotate(22 570 1180)" opacity="0.71"/><ellipse cx="512" cy="1145" rx="22.5" ry="15.2" transform="rotate(5 512 1145)" opacity="0.73"/><ellipse cx="690" cy="1252" rx="9.6" ry="6.0" transform="rotate(22 690 1252)" opacity="0.60"/><ellipse cx="723" cy="1237" rx="8.7" ry="7.5" transform="rotate(-40 723 1237)" opacity="0.72"/><ellipse cx="880" cy="1254" rx="16.7" ry="11.6" transform="rotate(-6 880 1254)" opacity="0.93"/><ellipse cx="648" cy="1195" rx="17.6" ry="10.2" transform="rotate(-24 648 1195)" opacity="0.75"/><ellipse cx="584" cy="1267" rx="18.6" ry="14.4" transform="rotate(-57 584 1267)" opacity="0.58"/><ellipse cx="574" cy="1108" rx="10.5" ry="8.2" transform="rotate(-11 574 1108)" opacity="0.59"/><ellipse cx="603" cy="1172" rx="17.3" ry="13.2" transform="rotate(-20 603 1172)" opacity="0.60"/><ellipse cx="853" cy="1177" rx="15.6" ry="13.9" transform="rotate(-29 853 1177)" opacity="0.59"/><ellipse cx="512" cy="1246" rx="22.6" ry="10.6" transform="rotate(44 512 1246)" opacity="0.66"/><ellipse cx="769" cy="1109" rx="14.7" ry="6.7" transform="rotate(50 769 1109)" opacity="0.59"/><ellipse cx="693" cy="1122" rx="15.1" ry="11.1" transform="rotate(-2 693 1122)" opacity="0.80"/><ellipse cx="741" cy="1223" rx="13.8" ry="10.7" transform="rotate(44 741 1223)" opacity="0.95"/><ellipse cx="873" cy="1232" rx="11.8" ry="5.4" transform="rotate(54 873 1232)" opacity="0.69"/><ellipse cx="685" cy="1252" rx="12.4" ry="8.7" transform="rotate(32 685 1252)" opacity="0.78"/><ellipse cx="720" cy="1214" rx="20.1" ry="9.9" transform="rotate(-29 720 1214)" opacity="0.76"/><ellipse cx="746" cy="1135" rx="18.9" ry="13.5" transform="rotate(-59 746 1135)" opacity="0.67"/><ellipse cx="650" cy="1212" rx="9.6" ry="6.5" transform="rotate(-51 650 1212)" opacity="0.86"/><ellipse cx="856" cy="1129" rx="11.8" ry="10.5" transform="rotate(1 856 1129)" opacity="0.75"/><ellipse cx="559" cy="1162" rx="19.9" ry="16.3" transform="rotate(-51 559 1162)" opacity="0.87"/><ellipse cx="659" cy="1248" rx="21.4" ry="16.8" transform="rotate(-4 659 1248)" opacity="0.73"/><ellipse cx="579" cy="1246" rx="13.9" ry="10.1" transform="rotate(16 579 1246)" opacity="0.69"/><ellipse cx="702" cy="1234" rx="22.7" ry="14.0" transform="rotate(-13 702 1234)" opacity="0.79"/><ellipse cx="665" cy="1158" rx="16.7" ry="10.3" transform="rotate(12 665 1158)" opacity="0.75"/><ellipse cx="760" cy="1154" rx="20.4" ry="8.9" transform="rotate(-33 760 1154)" opacity="0.92"/><ellipse cx="725" cy="1225" rx="15.9" ry="12.4" transform="rotate(-19 725 1225)" opacity="0.68"/><ellipse cx="530" cy="1164" rx="19.6" ry="11.4" transform="rotate(-45 530 1164)" opacity="0.69"/><ellipse cx="657" cy="1207" rx="22.4" ry="16.7" transform="rotate(-25 657 1207)" opacity="0.74"/><ellipse cx="810" cy="1155" rx="13.1" ry="7.8" transform="rotate(59 810 1155)" opacity="0.85"/><ellipse cx="688" cy="1115" rx="21.3" ry="8.8" transform="rotate(26 688 1115)" opacity="0.72"/><ellipse cx="634" cy="1135" rx="17.0" ry="13.6" transform="rotate(9 634 1135)" opacity="0.63"/><ellipse cx="720" cy="1132" rx="9.4" ry="5.9" transform="rotate(49 720 1132)" opacity="0.68"/><ellipse cx="479" cy="1193" rx="16.7" ry="11.4" transform="rotate(-58 479 1193)" opacity="0.82"/><ellipse cx="810" cy="1112" rx="16.7" ry="13.3" transform="rotate(-50 810 1112)" opacity="0.70"/><ellipse cx="586" cy="1119" rx="13.0" ry="5.4" transform="rotate(23 586 1119)" opacity="0.62"/><ellipse cx="785" cy="1217" rx="11.9" ry="6.1" transform="rotate(37 785 1217)" opacity="0.91"/><ellipse cx="613" cy="1183" rx="13.6" ry="10.9" transform="rotate(-18 613 1183)" opacity="0.83"/><ellipse cx="679" cy="1197" rx="19.5" ry="14.7" transform="rotate(57 679 1197)" opacity="0.59"/><ellipse cx="790" cy="1277" rx="13.6" ry="5.5" transform="rotate(-12 790 1277)" opacity="0.89"/><ellipse cx="846" cy="1272" rx="18.2" ry="12.1" transform="rotate(30 846 1272)" opacity="0.57"/><ellipse cx="516" cy="1266" rx="22.6" ry="11.8" transform="rotate(-40 516 1266)" opacity="0.95"/><ellipse cx="629" cy="1130" rx="11.3" ry="6.9" transform="rotate(-23 629 1130)" opacity="0.67"/><ellipse cx="817" cy="1126" rx="26.0" ry="14.3" transform="rotate(-41 817 1126)" opacity="0.86"/><ellipse cx="740" cy="1069" rx="21.9" ry="15.1" transform="rotate(56 740 1069)" opacity="0.87"/><ellipse cx="754" cy="1088" rx="20.4" ry="14.2" transform="rotate(16 754 1088)" opacity="0.84"/><ellipse cx="785" cy="1091" rx="17.8" ry="9.6" transform="rotate(-38 785 1091)" opacity="0.92"/><ellipse cx="823" cy="1148" rx="29.1" ry="19.7" transform="rotate(49 823 1148)" opacity="0.67"/><ellipse cx="818" cy="1188" rx="20.1" ry="13.6" transform="rotate(-49 818 1188)" opacity="0.75"/><ellipse cx="744" cy="1067" rx="29.2" ry="23.4" transform="rotate(-11 744 1067)" opacity="0.94"/><ellipse cx="807" cy="1168" rx="26.8" ry="11.5" transform="rotate(58 807 1168)" opacity="0.66"/><ellipse cx="721" cy="1126" rx="20.6" ry="16.4" transform="rotate(31 721 1126)" opacity="0.73"/><ellipse cx="816" cy="1118" rx="26.6" ry="12.6" transform="rotate(56 816 1118)" opacity="0.90"/><ellipse cx="777" cy="1149" rx="29.9" ry="15.9" transform="rotate(8 777 1149)" opacity="0.59"/><ellipse cx="783" cy="1085" rx="18.1" ry="15.5" transform="rotate(-41 783 1085)" opacity="0.88"/><ellipse cx="477" cy="939" rx="6.6" ry="3.0" transform="rotate(1 477 939)" opacity="0.61"/><ellipse cx="478" cy="1045" rx="5.7" ry="3.7" transform="rotate(-58 478 1045)" opacity="0.64"/><ellipse cx="629" cy="1082" rx="3.5" ry="2.8" transform="rotate(-34 629 1082)" opacity="0.43"/><ellipse cx="627" cy="989" rx="7.7" ry="6.8" transform="rotate(-20 627 989)" opacity="0.51"/><ellipse cx="474" cy="947" rx="5.3" ry="4.0" transform="rotate(-14 474 947)" opacity="0.44"/><ellipse cx="504" cy="1027" rx="6.4" ry="4.9" transform="rotate(40 504 1027)" opacity="0.65"/><ellipse cx="736" cy="883" rx="4.9" ry="3.7" transform="rotate(-30 736 883)" opacity="0.50"/><ellipse cx="491" cy="1050" rx="7.3" ry="6.0" transform="rotate(32 491 1050)" opacity="0.48"/><ellipse cx="719" cy="944" rx="4.9" ry="3.3" transform="rotate(-22 719 944)" opacity="0.69"/><ellipse cx="782" cy="1002" rx="3.4" ry="1.7" transform="rotate(-12 782 1002)" opacity="0.62"/></g><rect x="505" y="20" width="395" height="475" fill="#35432a"/><polygon points="505,240 900,250 900,490 700,470 505,445" fill="#4a6534"/><ellipse cx="780" cy="470" rx="120" ry="28" fill="#3a3f2e"/><ellipse cx="580" cy="120" rx="70" ry="90" fill="#2b3920"/><ellipse cx="804" cy="251" rx="23.1" ry="13.5" transform="rotate(-63 804 251)" fill="#4f8a33"/><ellipse cx="857" cy="262" rx="15.5" ry="5.6" transform="rotate(-42 857 262)" fill="#6eae46"/><ellipse cx="744" cy="290" rx="17.3" ry="6.5" transform="rotate(-67 744 290)" fill="#6eae46"/><ellipse cx="830" cy="149" rx="14.5" ry="8.2" transform="rotate(-30 830 149)" fill="#8cc55a"/><ellipse cx="838" cy="47" rx="20.7" ry="9.5" transform="rotate(-70 838 47)" fill="#6eae46"/><ellipse cx="888" cy="27" rx="22.8" ry="13.5" transform="rotate(-28 888 27)" fill="#6eae46"/><ellipse cx="724" cy="318" rx="19.5" ry="10.2" transform="rotate(-24 724 318)" fill="#6eae46"/><ellipse cx="881" cy="236" rx="25.5" ry="14.6" transform="rotate(-65 881 236)" fill="#7dbb52"/><ellipse cx="742" cy="76" rx="14.0" ry="5.1" transform="rotate(-70 742 76)" fill="#7dbb52"/><ellipse cx="798" cy="241" rx="12.9" ry="5.7" transform="rotate(53 798 241)" fill="#7dbb52"/><ellipse cx="822" cy="81" rx="18.6" ry="7.3" transform="rotate(-65 822 81)" fill="#7dbb52"/><ellipse cx="883" cy="134" rx="17.7" ry="8.6" transform="rotate(23 883 134)" fill="#8cc55a"/><ellipse cx="745" cy="282" rx="18.3" ry="9.7" transform="rotate(-20 745 282)" fill="#4f8a33"/><ellipse cx="684" cy="100" rx="23.5" ry="10.9" transform="rotate(20 684 100)" fill="#4f8a33"/><ellipse cx="869" cy="102" rx="18.5" ry="9.2" transform="rotate(5 869 102)" fill="#7dbb52"/><ellipse cx="677" cy="129" rx="20.6" ry="11.9" transform="rotate(0 677 129)" fill="#7dbb52"/><ellipse cx="877" cy="191" rx="16.4" ry="7.0" transform="rotate(-50 877 191)" fill="#6eae46"/><ellipse cx="805" cy="245" rx="16.3" ry="7.7" transform="rotate(-50 805 245)" fill="#5f9e3c"/><ellipse cx="892" cy="188" rx="17.7" ry="7.2" transform="rotate(18 892 188)" fill="#4f8a33"/><ellipse cx="853" cy="164" rx="17.9" ry="6.5" transform="rotate(56 853 164)" fill="#5f9e3c"/><ellipse cx="735" cy="88" rx="25.7" ry="12.6" transform="rotate(35 735 88)" fill="#6eae46"/><ellipse cx="681" cy="158" rx="14.1" ry="7.9" transform="rotate(-34 681 158)" fill="#7dbb52"/><ellipse cx="764" cy="330" rx="23.9" ry="14.2" transform="rotate(54 764 330)" fill="#8cc55a"/><ellipse cx="820" cy="122" rx="15.8" ry="7.4" transform="rotate(-42 820 122)" fill="#6eae46"/><ellipse cx="745" cy="326" rx="25.4" ry="12.9" transform="rotate(16 745 326)" fill="#8cc55a"/><ellipse cx="698" cy="175" rx="19.2" ry="9.4" transform="rotate(22 698 175)" fill="#4f8a33"/><ellipse cx="740" cy="204" rx="12.5" ry="5.3" transform="rotate(1 740 204)" fill="#4f8a33"/><ellipse cx="855" cy="106" rx="25.7" ry="13.6" transform="rotate(-25 855 106)" fill="#7dbb52"/><ellipse cx="794" cy="29" rx="19.7" ry="8.1" transform="rotate(48 794 29)" fill="#7dbb52"/><ellipse cx="724" cy="178" rx="21.4" ry="9.4" transform="rotate(18 724 178)" fill="#7dbb52"/><ellipse cx="832" cy="278" rx="16.9" ry="9.5" transform="rotate(23 832 278)" fill="#8cc55a"/><ellipse cx="885" cy="183" rx="19.4" ry="7.6" transform="rotate(52 885 183)" fill="#7dbb52"/><ellipse cx="723" cy="49" rx="21.4" ry="9.7" transform="rotate(62 723 49)" fill="#4f8a33"/><ellipse cx="815" cy="153" rx="20.7" ry="11.3" transform="rotate(-63 815 153)" fill="#7dbb52"/><ellipse cx="702" cy="204" rx="20.7" ry="8.2" transform="rotate(-60 702 204)" fill="#6eae46"/><ellipse cx="892" cy="324" rx="14.3" ry="8.2" transform="rotate(11 892 324)" fill="#5f9e3c"/><ellipse cx="887" cy="172" rx="19.7" ry="8.9" transform="rotate(27 887 172)" fill="#7dbb52"/><ellipse cx="814" cy="47" rx="14.9" ry="7.9" transform="rotate(-70 814 47)" fill="#7dbb52"/><ellipse cx="739" cy="315" rx="24.0" ry="13.6" transform="rotate(25 739 315)" fill="#4f8a33"/><ellipse cx="886" cy="193" rx="16.2" ry="6.9" transform="rotate(16 886 193)" fill="#4f8a33"/><ellipse cx="883" cy="114" rx="16.9" ry="6.5" transform="rotate(67 883 114)" fill="#8cc55a"/><ellipse cx="744" cy="68" rx="20.3" ry="10.0" transform="rotate(-36 744 68)" fill="#6eae46"/><ellipse cx="801" cy="132" rx="24.5" ry="8.6" transform="rotate(13 801 132)" fill="#5f9e3c"/><ellipse cx="791" cy="213" rx="14.0" ry="7.1" transform="rotate(26 791 213)" fill="#4f8a33"/><ellipse cx="758" cy="323" rx="18.9" ry="8.9" transform="rotate(28 758 323)" fill="#8cc55a"/><ellipse cx="886" cy="304" rx="20.3" ry="8.4" transform="rotate(57 886 304)" fill="#7dbb52"/><ellipse cx="715" cy="31" rx="25.2" ry="10.8" transform="rotate(-34 715 31)" fill="#7dbb52"/><ellipse cx="769" cy="62" rx="20.7" ry="9.5" transform="rotate(-60 769 62)" fill="#7dbb52"/><ellipse cx="843" cy="277" rx="12.2" ry="5.9" transform="rotate(-8 843 277)" fill="#7dbb52"/><ellipse cx="879" cy="263" rx="15.4" ry="6.4" transform="rotate(3 879 263)" fill="#6eae46"/><ellipse cx="725" cy="210" rx="18.6" ry="9.5" transform="rotate(-40 725 210)" fill="#4f8a33"/><ellipse cx="659" cy="63" rx="16.0" ry="8.4" transform="rotate(5 659 63)" fill="#4f8a33"/><ellipse cx="831" cy="33" rx="16.9" ry="8.8" transform="rotate(-37 831 33)" fill="#4f8a33"/><ellipse cx="664" cy="102" rx="18.4" ry="10.6" transform="rotate(-22 664 102)" fill="#4f8a33"/><ellipse cx="758" cy="201" rx="21.9" ry="11.1" transform="rotate(28 758 201)" fill="#8cc55a"/><ellipse cx="769" cy="233" rx="22.1" ry="12.7" transform="rotate(-54 769 233)" fill="#8cc55a"/><ellipse cx="728" cy="26" rx="22.9" ry="11.4" transform="rotate(9 728 26)" fill="#8cc55a"/><ellipse cx="689" cy="171" rx="19.7" ry="9.3" transform="rotate(67 689 171)" fill="#7dbb52"/><ellipse cx="692" cy="204" rx="23.4" ry="8.6" transform="rotate(-2 692 204)" fill="#6eae46"/><ellipse cx="852" cy="266" rx="21.3" ry="7.6" transform="rotate(-53 852 266)" fill="#8cc55a"/><ellipse cx="895" cy="239" rx="12.7" ry="7.1" transform="rotate(-42 895 239)" fill="#6eae46"/><ellipse cx="826" cy="66" rx="16.1" ry="9.3" transform="rotate(-24 826 66)" fill="#6eae46"/><ellipse cx="802" cy="151" rx="14.3" ry="7.2" transform="rotate(-43 802 151)" fill="#5f9e3c"/><ellipse cx="813" cy="252" rx="15.9" ry="7.8" transform="rotate(32 813 252)" fill="#5f9e3c"/><ellipse cx="866" cy="66" rx="18.0" ry="7.7" transform="rotate(55 866 66)" fill="#4f8a33"/><ellipse cx="772" cy="311" rx="17.2" ry="6.3" transform="rotate(-32 772 311)" fill="#7dbb52"/><ellipse cx="791" cy="232" rx="16.1" ry="9.4" transform="rotate(-14 791 232)" fill="#4f8a33"/><ellipse cx="712" cy="351" rx="12.5" ry="6.7" transform="rotate(-36 712 351)" fill="#5f9e3c"/><ellipse cx="777" cy="385" rx="14.5" ry="6.5" transform="rotate(-66 777 385)" fill="#6eae46"/><ellipse cx="759" cy="299" rx="16.7" ry="6.2" transform="rotate(59 759 299)" fill="#6eae46"/><ellipse cx="751" cy="316" rx="18.8" ry="8.8" transform="rotate(-43 751 316)" fill="#7dbb52"/><ellipse cx="776" cy="293" rx="17.3" ry="6.3" transform="rotate(39 776 293)" fill="#6eae46"/><ellipse cx="762" cy="315" rx="11.2" ry="6.6" transform="rotate(55 762 315)" fill="#5f9e3c"/><ellipse cx="778" cy="305" rx="16.2" ry="7.1" transform="rotate(4 778 305)" fill="#6eae46"/><ellipse cx="720" cy="358" rx="13.5" ry="6.0" transform="rotate(21 720 358)" fill="#6eae46"/><ellipse cx="758" cy="378" rx="14.3" ry="8.1" transform="rotate(-61 758 378)" fill="#5f9e3c"/><ellipse cx="751" cy="353" rx="17.4" ry="7.8" transform="rotate(-61 751 353)" fill="#6eae46"/><ellipse cx="684" cy="312" rx="10.4" ry="5.9" transform="rotate(19 684 312)" fill="#7dbb52"/><ellipse cx="680" cy="342" rx="18.9" ry="9.5" transform="rotate(12 680 342)" fill="#7dbb52"/><ellipse cx="736" cy="301" rx="11.5" ry="4.5" transform="rotate(28 736 301)" fill="#7dbb52"/><ellipse cx="784" cy="342" rx="15.5" ry="5.9" transform="rotate(3 784 342)" fill="#6eae46"/><ellipse cx="761" cy="294" rx="19.0" ry="8.3" transform="rotate(10 761 294)" fill="#7dbb52"/><ellipse cx="793" cy="366" rx="16.7" ry="7.8" transform="rotate(-40 793 366)" fill="#6eae46"/></g>
<polygon points="517.0,665.0 526.0,665.0 530.5,775.0 530.0,970.0 500.0,970.0 505.0,860.0 511.0,800.0" fill="#b9b2a7"/>
<polygon points="513.6,665.0 522.0,665.0 514.8,757.0 511.2,810.0 504.9,860.0 502.4,918.0 500.0,970.0 473.7,970.0 488.7,860.0 501.0,810.0 505.0,757.0" fill="#6a6368"/>
<polyline points="522,665 514.8,757 511.2,810 504.9,860 502.4,918 500.8,970" fill="none" stroke="#3e3838" stroke-width="2"/>
<rect x="523.3" y="665" width="17" height="110" fill="#4f4440"/>
<rect x="530" y="665" width="20" height="108" fill="#5b504c"/>
<rect x="528.5" y="790" width="23" height="72" fill="#2a2520"/>
<g transform="translate(425,660) scale(0.24219)"><rect x="217" y="463" width="428" height="69" fill="#bfc5cb"/><rect x="217" y="463" width="428" height="14" fill="#dde2e7"/><rect x="215" y="478" width="38" height="56" fill="#1e1e1e"/><rect x="355" y="621" width="147" height="69" fill="#b9bfc6"/><rect x="355" y="621" width="147" height="12" fill="#d6dbe0"/><rect x="393" y="395" width="24" height="68" fill="#1c1c1c"/><rect x="515" y="400" width="22" height="63" fill="#1c1c1c"/></g>
<polygon points="433.0,665.0 449.4,665.0 433.0,728.0" fill="#6b6666"/>
<polygon points="449.4,665.0 465.1,665.0 451.8,720.6 441.5,756.9 434.8,781.1 433.0,790.0 433.0,738.7 437.3,720.6" fill="#3d332e"/>
<polygon points="433.0,780.0 437.0,790.0 446.2,810.0 473.7,970.0 455.0,970.0 433.0,812.0" fill="#3d332e"/>
<polygon points="454.2,665.0 466.3,665.0 470.0,720.6 473.6,756.9 480.9,805.4 482.4,810.0 492.4,918.6 477.4,918.6 467.5,810.0 466.3,805.4 457.9,756.9 454.2,720.6" fill="#3d332e"/>
<polygon points="471.2,665.0 484.5,665.0 490.6,720.6 495.4,756.9 497.8,805.4 501.8,838.7 491.2,838.7 488.1,805.4 483.3,756.9 476.0,720.6" fill="#3d332e"/>
<polygon points="487.5,665.0 497.8,665.0 504.5,720.6 505.7,772.7 496.0,772.7 495.4,720.6" fill="#3d332e"/>
<polygon points="499.7,665.0 514.8,665.0 513.0,732.7 505.1,732.7" fill="#3d332e"/>
<line x1="498.6" y1="665" x2="505" y2="735" stroke="#b6aea2" stroke-width="1.4"/>
<g transform="translate(425,660) scale(0.24219)"><rect x="522" y="498" width="153" height="83" rx="10" fill="#c3cbd4"/><rect x="497" y="576" width="208" height="296" rx="8" fill="#e3e5e8"/><rect x="520" y="601" width="165" height="256" fill="#c3cad6"/><g fill="#3a3f4b"><polygon points="520,601 552,601 552,857 520,857"/><polygon points="610,608 680,608 680,648 640,652 610,640"/><polygon points="520,790 600,800 620,850 520,857"/><polygon points="560,805 682,812 682,832 560,828"/><polygon points="520,640 575,625 585,690 545,740 520,740"/><polygon points="520,740 560,735 560,800 520,800"/></g><g stroke="#dfe3e8" stroke-width="3" fill="none" opacity="0.85"><line x1="561" y1="601" x2="561" y2="857"/><line x1="602" y1="601" x2="602" y2="857"/><line x1="643" y1="601" x2="643" y2="857"/><line x1="520" y1="665" x2="685" y2="665"/><line x1="520" y1="729" x2="685" y2="729"/><line x1="520" y1="793" x2="685" y2="793"/></g></g>
</g>
<text x="423.5" y="1023" font-size="39.7" text-anchor="middle">Sensor 4 location</text>
<rect x="120.8" y="363.2" width="2248.5" height="913.8" fill="none" stroke="#111" stroke-width="2.2"/>
<g stroke="#111" stroke-width="2.2">
<line x1="195.1" y1="1277.0" x2="195.1" y2="1285.8"/>
<line x1="495.4" y1="1277.0" x2="495.4" y2="1285.8"/>
<line x1="795.6" y1="1277.0" x2="795.6" y2="1285.8"/>
<line x1="1095.1" y1="1277.0" x2="1095.1" y2="1285.8"/>
<line x1="1319.7" y1="1277.0" x2="1319.7" y2="1285.8"/>
<line x1="1619.5" y1="1277.0" x2="1619.5" y2="1285.8"/>
<line x1="1919.4" y1="1277.0" x2="1919.4" y2="1285.8"/>
<line x1="2219.0" y1="1277.0" x2="2219.0" y2="1285.8"/>
<line x1="112.1" y1="1277.0" x2="120.8" y2="1277.0"/>
<line x1="112.1" y1="1162.8" x2="120.8" y2="1162.8"/>
<line x1="112.1" y1="1048.5" x2="120.8" y2="1048.5"/>
<line x1="112.1" y1="934.3" x2="120.8" y2="934.3"/>
<line x1="112.1" y1="820.1" x2="120.8" y2="820.1"/>
<line x1="112.1" y1="705.9" x2="120.8" y2="705.9"/>
<line x1="112.1" y1="591.6" x2="120.8" y2="591.6"/>
<line x1="112.1" y1="477.4" x2="120.8" y2="477.4"/>
<line x1="112.1" y1="363.2" x2="120.8" y2="363.2"/>
</g>
<text x="61.8" y="1286.5" font-size="26.5" textLength="43.3" lengthAdjust="spacingAndGlyphs">0.2</text>
<text x="61.8" y="1172.3" font-size="26.5" textLength="43.3" lengthAdjust="spacingAndGlyphs">0.3</text>
<text x="61.8" y="1058.0" font-size="26.5" textLength="43.3" lengthAdjust="spacingAndGlyphs">0.4</text>
<text x="61.8" y="943.8" font-size="26.5" textLength="43.3" lengthAdjust="spacingAndGlyphs">0.5</text>
<text x="61.8" y="829.6" font-size="26.5" textLength="43.3" lengthAdjust="spacingAndGlyphs">0.6</text>
<text x="61.8" y="715.4" font-size="26.5" textLength="43.3" lengthAdjust="spacingAndGlyphs">0.7</text>
<text x="61.8" y="601.1" font-size="26.5" textLength="43.3" lengthAdjust="spacingAndGlyphs">0.8</text>
<text x="61.8" y="486.9" font-size="26.5" textLength="43.3" lengthAdjust="spacingAndGlyphs">0.9</text>
<text x="62.6" y="372.7" font-size="26.5" textLength="41.4" lengthAdjust="spacingAndGlyphs">1.0</text>
<text x="120.0" y="1313.8" font-size="26.5" textLength="152.5" lengthAdjust="spacingAndGlyphs">01/17/2023</text>
<text x="420.3" y="1313.8" font-size="26.5" textLength="152.5" lengthAdjust="spacingAndGlyphs">01/21/2023</text>
<text x="720.5" y="1313.8" font-size="26.5" textLength="152.5" lengthAdjust="spacingAndGlyphs">01/25/2023</text>
<text x="1020.0" y="1313.8" font-size="26.5" textLength="152.5" lengthAdjust="spacingAndGlyphs">01/29/2023</text>
<text x="1244.6" y="1313.8" font-size="26.5" textLength="152.5" lengthAdjust="spacingAndGlyphs">02/01/2023</text>
<text x="1544.4" y="1313.8" font-size="26.5" textLength="152.5" lengthAdjust="spacingAndGlyphs">02/05/2023</text>
<text x="1844.3" y="1313.8" font-size="26.5" textLength="152.5" lengthAdjust="spacingAndGlyphs">02/09/2023</text>
<text x="2143.9" y="1313.8" font-size="26.5" textLength="152.5" lengthAdjust="spacingAndGlyphs">02/13/2023</text>
<text transform="translate(33.5,822) rotate(-90)" font-size="38" text-anchor="middle">Water depth [m]</text>
</svg></body></html>
